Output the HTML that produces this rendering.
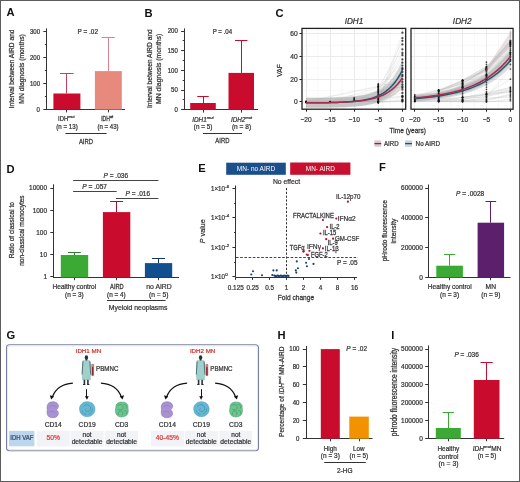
<!DOCTYPE html>
<html><head><meta charset="utf-8"><style>
html,body{margin:0;padding:0;background:#fff;overflow:hidden;}
svg{display:block;font-family:"Liberation Sans", sans-serif;will-change:transform;}
</style></head><body>
<svg width="520" height="482" viewBox="0 0 520 482">
<rect x="0.5" y="0.5" width="519" height="481" fill="none" stroke="#5c5c5c" stroke-width="1"/>
<text transform="translate(6.60 16.20)" font-size="11.2" font-weight="bold" fill="#111">A</text>
<line x1="46.50" y1="28.40" x2="46.50" y2="109.60" stroke="#333" stroke-width="1"/>
<line x1="43.30" y1="31.50" x2="46.50" y2="31.50" stroke="#333" stroke-width="1"/>
<text transform="translate(40.00 33.78) scale(0.920 1)" font-size="6.6" text-anchor="end" fill="#333" stroke="#333" stroke-width="0.239">300</text>
<line x1="43.30" y1="57.50" x2="46.50" y2="57.50" stroke="#333" stroke-width="1"/>
<text transform="translate(40.00 59.68) scale(0.920 1)" font-size="6.6" text-anchor="end" fill="#333" stroke="#333" stroke-width="0.239">200</text>
<line x1="43.30" y1="83.50" x2="46.50" y2="83.50" stroke="#333" stroke-width="1"/>
<text transform="translate(40.00 85.68) scale(0.920 1)" font-size="6.6" text-anchor="end" fill="#333" stroke="#333" stroke-width="0.239">100</text>
<line x1="43.30" y1="109.50" x2="46.50" y2="109.50" stroke="#333" stroke-width="1"/>
<text transform="translate(40.00 111.58) scale(0.920 1)" font-size="6.6" text-anchor="end" fill="#333" stroke="#333" stroke-width="0.239">0</text>
<line x1="44.90" y1="44.50" x2="46.50" y2="44.50" stroke="#333" stroke-width="1"/>
<line x1="44.90" y1="70.50" x2="46.50" y2="70.50" stroke="#333" stroke-width="1"/>
<line x1="44.90" y1="96.50" x2="46.50" y2="96.50" stroke="#333" stroke-width="1"/>
<line x1="46.00" y1="109.50" x2="125.00" y2="109.50" stroke="#333" stroke-width="1"/>
<line x1="66.50" y1="109.60" x2="66.50" y2="112.40" stroke="#333" stroke-width="1"/>
<line x1="108.50" y1="109.60" x2="108.50" y2="112.40" stroke="#333" stroke-width="1"/>
<rect x="53.40" y="93.50" width="27.00" height="16.10" fill="#c90c2d"/>
<line x1="66.50" y1="93.50" x2="66.50" y2="73.60" stroke="#c8405a" stroke-width="1"/>
<line x1="60.10" y1="73.50" x2="73.60" y2="73.50" stroke="#c8405a" stroke-width="1"/>
<rect x="94.90" y="71.10" width="26.90" height="38.50" fill="#e8897e"/>
<line x1="108.50" y1="71.10" x2="108.50" y2="37.00" stroke="#d8848c" stroke-width="1"/>
<line x1="101.50" y1="37.50" x2="114.80" y2="37.50" stroke="#d8848c" stroke-width="1"/>
<text transform="translate(87.80 34.00) scale(0.977 1)" font-size="6.6" text-anchor="middle" fill="#333" stroke="#333" stroke-width="0.225">P = .02</text>
<text transform="translate(14.00 68.90) rotate(-90) scale(0.872 1)" font-size="7.6" text-anchor="middle" fill="#333" stroke="#333" stroke-width="0.252">Interval between AIRD and</text>
<text transform="translate(23.80 68.90) rotate(-90) scale(0.891 1)" font-size="7.6" text-anchor="middle" fill="#333" stroke="#333" stroke-width="0.247">MN diagnosis (months)</text>
<text transform="translate(66.30 121.10) scale(0.880 1)" font-size="6.7" text-anchor="middle" fill="#333" stroke="#333" stroke-width="0.250">IDH<tspan font-size="4.4" dy="-2.7">mut</tspan></text>
<text transform="translate(67.00 128.60) scale(0.924 1)" font-size="6.7" text-anchor="middle" fill="#333" stroke="#333" stroke-width="0.238">(n = 13)</text>
<text transform="translate(107.20 121.10) scale(0.753 1)" font-size="6.7" text-anchor="middle" fill="#333" stroke="#333" stroke-width="0.292">IDH<tspan font-size="4.4" dy="-2.7">wt</tspan></text>
<text transform="translate(108.00 128.60) scale(0.906 1)" font-size="6.7" text-anchor="middle" fill="#333" stroke="#333" stroke-width="0.243">(n = 43)</text>
<line x1="65.40" y1="133.50" x2="106.60" y2="133.50" stroke="#333" stroke-width="1"/>
<text transform="translate(86.00 143.80) scale(0.825 1)" font-size="7.2" text-anchor="middle" fill="#333" stroke="#333" stroke-width="0.267">AIRD</text>
<text transform="translate(144.50 16.80)" font-size="11.2" font-weight="bold" fill="#111">B</text>
<line x1="184.50" y1="28.40" x2="184.50" y2="110.00" stroke="#333" stroke-width="1"/>
<line x1="181.10" y1="31.50" x2="184.30" y2="31.50" stroke="#333" stroke-width="1"/>
<text transform="translate(177.80 33.38) scale(0.920 1)" font-size="6.6" text-anchor="end" fill="#333" stroke="#333" stroke-width="0.239">200</text>
<line x1="181.10" y1="50.50" x2="184.30" y2="50.50" stroke="#333" stroke-width="1"/>
<text transform="translate(177.80 53.08) scale(0.920 1)" font-size="6.6" text-anchor="end" fill="#333" stroke="#333" stroke-width="0.239">150</text>
<line x1="181.10" y1="70.50" x2="184.30" y2="70.50" stroke="#333" stroke-width="1"/>
<text transform="translate(177.80 72.78) scale(0.920 1)" font-size="6.6" text-anchor="end" fill="#333" stroke="#333" stroke-width="0.239">100</text>
<line x1="181.10" y1="90.50" x2="184.30" y2="90.50" stroke="#333" stroke-width="1"/>
<text transform="translate(177.80 92.48) scale(0.920 1)" font-size="6.6" text-anchor="end" fill="#333" stroke="#333" stroke-width="0.239">50</text>
<line x1="181.10" y1="109.50" x2="184.30" y2="109.50" stroke="#333" stroke-width="1"/>
<text transform="translate(177.80 112.18) scale(0.920 1)" font-size="6.6" text-anchor="end" fill="#333" stroke="#333" stroke-width="0.239">0</text>
<line x1="182.70" y1="40.50" x2="184.30" y2="40.50" stroke="#333" stroke-width="1"/>
<line x1="182.70" y1="60.50" x2="184.30" y2="60.50" stroke="#333" stroke-width="1"/>
<line x1="182.70" y1="80.50" x2="184.30" y2="80.50" stroke="#333" stroke-width="1"/>
<line x1="182.70" y1="99.50" x2="184.30" y2="99.50" stroke="#333" stroke-width="1"/>
<line x1="184.00" y1="109.50" x2="258.00" y2="109.50" stroke="#333" stroke-width="1"/>
<line x1="203.50" y1="109.80" x2="203.50" y2="112.60" stroke="#333" stroke-width="1"/>
<line x1="241.50" y1="109.80" x2="241.50" y2="112.60" stroke="#333" stroke-width="1"/>
<rect x="190.20" y="103.00" width="25.60" height="6.80" fill="#c90c2d"/>
<line x1="203.50" y1="103.00" x2="203.50" y2="96.20" stroke="#c90c2d" stroke-width="1"/>
<line x1="197.25" y1="96.50" x2="208.75" y2="96.50" stroke="#c90c2d" stroke-width="1"/>
<rect x="228.50" y="72.90" width="25.50" height="36.90" fill="#c90c2d"/>
<line x1="241.50" y1="72.90" x2="241.50" y2="40.70" stroke="#c90c2d" stroke-width="1"/>
<line x1="235.05" y1="40.50" x2="247.45" y2="40.50" stroke="#c90c2d" stroke-width="1"/>
<text transform="translate(222.40 33.70) scale(0.934 1)" font-size="6.6" text-anchor="middle" fill="#333" stroke="#333" stroke-width="0.235">P = .04</text>
<text transform="translate(152.20 68.65) rotate(-90) scale(0.874 1)" font-size="7.6" text-anchor="middle" fill="#333" stroke="#333" stroke-width="0.252">Interval between AIRD and</text>
<text transform="translate(160.60 68.85) rotate(-90) scale(0.902 1)" font-size="7.6" text-anchor="middle" fill="#333" stroke="#333" stroke-width="0.244">MN diagnosis (months)</text>
<text transform="translate(203.00 121.50) scale(0.956 1)" font-size="6.7" text-anchor="middle" fill="#333" stroke="#333" stroke-width="0.230"><tspan font-style="italic">IDH1<tspan font-size="4.4" dy="-2.7">mut</tspan></tspan></text>
<text transform="translate(203.10 128.80) scale(0.946 1)" font-size="6.7" text-anchor="middle" fill="#333" stroke="#333" stroke-width="0.232">(n = 5)</text>
<text transform="translate(241.50 121.50) scale(0.938 1)" font-size="6.7" text-anchor="middle" fill="#333" stroke="#333" stroke-width="0.235"><tspan font-style="italic">IDH2<tspan font-size="4.4" dy="-2.7">mut</tspan></tspan></text>
<text transform="translate(241.50 128.80) scale(0.982 1)" font-size="6.7" text-anchor="middle" fill="#333" stroke="#333" stroke-width="0.224">(n = 8)</text>
<line x1="203.00" y1="133.50" x2="242.00" y2="133.50" stroke="#333" stroke-width="1"/>
<text transform="translate(222.40 143.30) scale(0.820 1)" font-size="7.2" text-anchor="middle" fill="#333" stroke="#333" stroke-width="0.268">AIRD</text>
<text transform="translate(275.60 16.50)" font-size="11.2" font-weight="bold" fill="#111">C</text>
<rect x="302.00" y="28.40" width="103.70" height="80.80" fill="#fff"/>
<line x1="318.05" y1="28.40" x2="318.05" y2="109.20" stroke="#f4f4f4" stroke-width="0.6"/>
<line x1="342.15" y1="28.40" x2="342.15" y2="109.20" stroke="#f4f4f4" stroke-width="0.6"/>
<line x1="366.25" y1="28.40" x2="366.25" y2="109.20" stroke="#f4f4f4" stroke-width="0.6"/>
<line x1="390.35" y1="28.40" x2="390.35" y2="109.20" stroke="#f4f4f4" stroke-width="0.6"/>
<line x1="302.00" y1="90.48" x2="405.70" y2="90.48" stroke="#f4f4f4" stroke-width="0.6"/>
<line x1="302.00" y1="67.85" x2="405.70" y2="67.85" stroke="#f4f4f4" stroke-width="0.6"/>
<line x1="302.00" y1="45.22" x2="405.70" y2="45.22" stroke="#f4f4f4" stroke-width="0.6"/>
<line x1="306.50" y1="28.40" x2="306.50" y2="109.20" stroke="#ebebeb" stroke-width="1"/>
<line x1="330.50" y1="28.40" x2="330.50" y2="109.20" stroke="#ebebeb" stroke-width="1"/>
<line x1="354.50" y1="28.40" x2="354.50" y2="109.20" stroke="#ebebeb" stroke-width="1"/>
<line x1="378.50" y1="28.40" x2="378.50" y2="109.20" stroke="#ebebeb" stroke-width="1"/>
<line x1="402.50" y1="28.40" x2="402.50" y2="109.20" stroke="#ebebeb" stroke-width="1"/>
<line x1="302.00" y1="101.50" x2="405.70" y2="101.50" stroke="#ebebeb" stroke-width="1"/>
<line x1="302.00" y1="79.50" x2="405.70" y2="79.50" stroke="#ebebeb" stroke-width="1"/>
<line x1="302.00" y1="56.50" x2="405.70" y2="56.50" stroke="#ebebeb" stroke-width="1"/>
<line x1="302.00" y1="33.50" x2="405.70" y2="33.50" stroke="#ebebeb" stroke-width="1"/>
<path d="M378.30,101.54 L402.40,32.69" fill="none" stroke="#b8b8b8" stroke-width="0.5" opacity="0.38"/>
<path d="M330.10,101.62 L354.20,99.84 L378.30,101.59 L402.40,38.22" fill="none" stroke="#b8b8b8" stroke-width="0.5" opacity="0.38"/>
<path d="M354.20,100.79 L378.30,90.86 L402.40,40.81" fill="none" stroke="#b8b8b8" stroke-width="0.5" opacity="0.38"/>
<path d="M378.30,102.04 L402.40,44.41" fill="none" stroke="#b8b8b8" stroke-width="0.5" opacity="0.38"/>
<path d="M330.10,102.19 L378.30,87.23 L402.40,49.33" fill="none" stroke="#b8b8b8" stroke-width="0.5" opacity="0.38"/>
<path d="M378.30,92.39 L402.40,53.00" fill="none" stroke="#b8b8b8" stroke-width="0.5" opacity="0.38"/>
<path d="M306.00,102.06 L378.30,96.89 L402.40,55.21" fill="none" stroke="#b8b8b8" stroke-width="0.5" opacity="0.38"/>
<path d="M378.30,89.48 L402.40,59.38" fill="none" stroke="#b8b8b8" stroke-width="0.5" opacity="0.38"/>
<path d="M378.30,88.90 L402.40,62.67" fill="none" stroke="#b8b8b8" stroke-width="0.5" opacity="0.38"/>
<path d="M330.10,101.75 L378.30,100.01 L402.40,65.61" fill="none" stroke="#b8b8b8" stroke-width="0.5" opacity="0.38"/>
<path d="M306.00,101.38 L378.30,86.09 L402.40,68.27" fill="none" stroke="#b8b8b8" stroke-width="0.5" opacity="0.38"/>
<path d="M378.30,94.16 L402.40,69.34" fill="none" stroke="#b8b8b8" stroke-width="0.5" opacity="0.38"/>
<path d="M378.30,101.76 L402.40,71.92" fill="none" stroke="#b8b8b8" stroke-width="0.5" opacity="0.38"/>
<path d="M378.30,97.46 L402.40,74.90" fill="none" stroke="#b8b8b8" stroke-width="0.5" opacity="0.38"/>
<path d="M330.10,101.69 L354.20,101.27 L378.30,101.80 L402.40,76.30" fill="none" stroke="#b8b8b8" stroke-width="0.5" opacity="0.38"/>
<path d="M306.00,102.00 L378.30,101.38 L402.40,79.28" fill="none" stroke="#b8b8b8" stroke-width="0.5" opacity="0.38"/>
<path d="M378.30,86.31 L402.40,81.93" fill="none" stroke="#b8b8b8" stroke-width="0.5" opacity="0.38"/>
<path d="M378.30,84.51 L402.40,84.48" fill="none" stroke="#b8b8b8" stroke-width="0.5" opacity="0.38"/>
<path d="M306.00,102.02 L378.30,91.60 L402.40,86.49" fill="none" stroke="#b8b8b8" stroke-width="0.5" opacity="0.38"/>
<path d="M306.00,101.75 L378.30,86.75 L402.40,87.79" fill="none" stroke="#b8b8b8" stroke-width="0.5" opacity="0.38"/>
<path d="M378.30,102.14 L402.40,89.58" fill="none" stroke="#b8b8b8" stroke-width="0.5" opacity="0.38"/>
<path d="M378.30,98.05 L402.40,92.98" fill="none" stroke="#b8b8b8" stroke-width="0.5" opacity="0.38"/>
<path d="M306.00,101.43 L330.10,102.27 L354.20,101.07 L378.30,99.47 L402.40,96.02" fill="none" stroke="#b8b8b8" stroke-width="0.5" opacity="0.38"/>
<path d="M306.00,102.14 L330.10,101.83 L354.20,97.84 L378.30,97.37 L402.40,96.94" fill="none" stroke="#b8b8b8" stroke-width="0.5" opacity="0.38"/>
<path d="M378.30,101.96 L402.40,96.48" fill="none" stroke="#b8b8b8" stroke-width="0.5" opacity="0.38"/>
<path d="M378.30,102.35 L402.40,99.31" fill="none" stroke="#b8b8b8" stroke-width="0.5" opacity="0.38"/>
<path d="M378.30,102.02 L402.40,100.62" fill="none" stroke="#b8b8b8" stroke-width="0.5" opacity="0.38"/>
<path d="M354.20,99.34 L378.30,102.81 L402.40,100.60" fill="none" stroke="#b8b8b8" stroke-width="0.5" opacity="0.38"/>
<path d="M378.30,101.90 L402.40,101.54" fill="none" stroke="#b8b8b8" stroke-width="0.5" opacity="0.38"/>
<path d="M306.00,97.87 L308.41,97.86 L310.82,97.84 L313.23,97.82 L315.64,97.80 L318.05,97.77 L320.46,97.74 L322.87,97.71 L325.28,97.67 L327.69,97.62 L330.10,97.57 L332.51,97.51 L334.92,97.43 L337.33,97.35 L339.74,97.25 L342.15,97.13 L344.56,96.99 L346.97,96.84 L349.38,96.65 L351.79,96.44 L354.20,96.19 L356.61,95.89 L359.02,95.55 L361.43,95.16 L363.84,94.69 L366.25,94.15 L368.66,93.52 L371.07,92.79 L373.48,91.94 L375.89,90.94 L378.30,89.78 L380.71,88.42 L383.12,86.84 L385.53,85.00 L387.94,82.86 L390.35,80.35 L392.76,77.44 L395.17,74.03 L397.58,70.06 L399.99,65.44 L402.40,60.04 L402.40,80.19 L399.99,84.02 L397.58,87.32 L395.17,90.17 L392.76,92.62 L390.35,94.74 L387.94,96.56 L385.53,98.13 L383.12,99.49 L380.71,100.65 L378.30,101.66 L375.89,102.53 L373.48,103.27 L371.07,103.92 L368.66,104.47 L366.25,104.95 L363.84,105.36 L361.43,105.71 L359.02,106.02 L356.61,106.28 L354.20,106.51 L351.79,106.70 L349.38,106.87 L346.97,107.02 L344.56,107.14 L342.15,107.25 L339.74,107.34 L337.33,107.42 L334.92,107.49 L332.51,107.55 L330.10,107.60 L327.69,107.64 L325.28,107.68 L322.87,107.71 L320.46,107.74 L318.05,107.76 L315.64,107.78 L313.23,107.80 L310.82,107.82 L308.41,107.83 L306.00,107.84Z" fill="#999" opacity="0.33"/>
<path d="M306.00,97.86 L308.41,97.85 L310.82,97.84 L313.23,97.82 L315.64,97.80 L318.05,97.77 L320.46,97.74 L322.87,97.71 L325.28,97.67 L327.69,97.63 L330.10,97.58 L332.51,97.52 L334.92,97.45 L337.33,97.38 L339.74,97.29 L342.15,97.18 L344.56,97.06 L346.97,96.92 L349.38,96.76 L351.79,96.58 L354.20,96.36 L356.61,96.11 L359.02,95.82 L361.43,95.49 L363.84,95.11 L366.25,94.66 L368.66,94.14 L371.07,93.55 L373.48,92.86 L375.89,92.06 L378.30,91.13 L380.71,90.06 L383.12,88.82 L385.53,87.38 L387.94,85.72 L390.35,83.80 L392.76,81.57 L395.17,78.99 L397.58,76.00 L399.99,72.54 L402.40,68.53 L402.40,87.54 L399.99,90.16 L397.58,92.45 L395.17,94.44 L392.76,96.18 L390.35,97.69 L387.94,99.01 L385.53,100.16 L383.12,101.16 L380.71,102.04 L378.30,102.80 L375.89,103.46 L373.48,104.04 L371.07,104.54 L368.66,104.98 L366.25,105.36 L363.84,105.69 L361.43,105.98 L359.02,106.23 L356.61,106.45 L354.20,106.64 L351.79,106.81 L349.38,106.95 L346.97,107.08 L344.56,107.19 L342.15,107.28 L339.74,107.36 L337.33,107.44 L334.92,107.50 L332.51,107.55 L330.10,107.60 L327.69,107.64 L325.28,107.68 L322.87,107.71 L320.46,107.73 L318.05,107.76 L315.64,107.78 L313.23,107.79 L310.82,107.81 L308.41,107.82 L306.00,107.83Z" fill="#999" opacity="0.33"/>
<circle cx="378.30" cy="101.54" r="0.85" fill="#111" opacity="0.75"/>
<circle cx="402.40" cy="32.69" r="1.15" fill="#111" opacity="0.75"/>
<circle cx="330.10" cy="101.62" r="0.85" fill="#111" opacity="0.75"/>
<circle cx="354.20" cy="99.84" r="0.85" fill="#111" opacity="0.75"/>
<circle cx="378.30" cy="101.59" r="0.85" fill="#111" opacity="0.75"/>
<circle cx="402.40" cy="38.22" r="1.15" fill="#111" opacity="0.75"/>
<circle cx="354.20" cy="100.79" r="0.85" fill="#111" opacity="0.75"/>
<circle cx="378.30" cy="90.86" r="0.85" fill="#111" opacity="0.75"/>
<circle cx="402.40" cy="40.81" r="1.15" fill="#111" opacity="0.75"/>
<circle cx="378.30" cy="102.04" r="0.85" fill="#111" opacity="0.75"/>
<circle cx="402.40" cy="44.41" r="1.15" fill="#111" opacity="0.75"/>
<circle cx="330.10" cy="102.19" r="0.85" fill="#111" opacity="0.75"/>
<circle cx="378.30" cy="87.23" r="0.85" fill="#111" opacity="0.75"/>
<circle cx="402.40" cy="49.33" r="1.15" fill="#111" opacity="0.75"/>
<circle cx="378.30" cy="92.39" r="0.85" fill="#111" opacity="0.75"/>
<circle cx="402.40" cy="53.00" r="1.15" fill="#111" opacity="0.75"/>
<circle cx="306.00" cy="102.06" r="0.85" fill="#111" opacity="0.75"/>
<circle cx="378.30" cy="96.89" r="0.85" fill="#111" opacity="0.75"/>
<circle cx="402.40" cy="55.21" r="1.15" fill="#111" opacity="0.75"/>
<circle cx="378.30" cy="89.48" r="0.85" fill="#111" opacity="0.75"/>
<circle cx="402.40" cy="59.38" r="1.15" fill="#111" opacity="0.75"/>
<circle cx="378.30" cy="88.90" r="0.85" fill="#111" opacity="0.75"/>
<circle cx="402.40" cy="62.67" r="1.15" fill="#111" opacity="0.75"/>
<circle cx="330.10" cy="101.75" r="0.85" fill="#111" opacity="0.75"/>
<circle cx="378.30" cy="100.01" r="0.85" fill="#111" opacity="0.75"/>
<circle cx="402.40" cy="65.61" r="1.15" fill="#111" opacity="0.75"/>
<circle cx="306.00" cy="101.38" r="0.85" fill="#111" opacity="0.75"/>
<circle cx="378.30" cy="86.09" r="0.85" fill="#111" opacity="0.75"/>
<circle cx="402.40" cy="68.27" r="1.15" fill="#111" opacity="0.75"/>
<circle cx="378.30" cy="94.16" r="0.85" fill="#111" opacity="0.75"/>
<circle cx="402.40" cy="69.34" r="1.15" fill="#111" opacity="0.75"/>
<circle cx="378.30" cy="101.76" r="0.85" fill="#111" opacity="0.75"/>
<circle cx="402.40" cy="71.92" r="1.15" fill="#111" opacity="0.75"/>
<circle cx="378.30" cy="97.46" r="0.85" fill="#111" opacity="0.75"/>
<circle cx="402.40" cy="74.90" r="1.15" fill="#111" opacity="0.75"/>
<circle cx="330.10" cy="101.69" r="0.85" fill="#111" opacity="0.75"/>
<circle cx="354.20" cy="101.27" r="0.85" fill="#111" opacity="0.75"/>
<circle cx="378.30" cy="101.80" r="0.85" fill="#111" opacity="0.75"/>
<circle cx="402.40" cy="76.30" r="1.15" fill="#111" opacity="0.75"/>
<circle cx="306.00" cy="102.00" r="0.85" fill="#111" opacity="0.75"/>
<circle cx="378.30" cy="101.38" r="0.85" fill="#111" opacity="0.75"/>
<circle cx="402.40" cy="79.28" r="1.15" fill="#111" opacity="0.75"/>
<circle cx="378.30" cy="86.31" r="0.85" fill="#111" opacity="0.75"/>
<circle cx="402.40" cy="81.93" r="1.15" fill="#111" opacity="0.75"/>
<circle cx="378.30" cy="84.51" r="0.85" fill="#111" opacity="0.75"/>
<circle cx="402.40" cy="84.48" r="1.15" fill="#111" opacity="0.75"/>
<circle cx="306.00" cy="102.02" r="0.85" fill="#111" opacity="0.75"/>
<circle cx="378.30" cy="91.60" r="0.85" fill="#111" opacity="0.75"/>
<circle cx="402.40" cy="86.49" r="1.15" fill="#111" opacity="0.75"/>
<circle cx="306.00" cy="101.75" r="0.85" fill="#111" opacity="0.75"/>
<circle cx="378.30" cy="86.75" r="0.85" fill="#111" opacity="0.75"/>
<circle cx="402.40" cy="87.79" r="1.15" fill="#111" opacity="0.75"/>
<circle cx="378.30" cy="102.14" r="0.85" fill="#111" opacity="0.75"/>
<circle cx="402.40" cy="89.58" r="1.15" fill="#111" opacity="0.75"/>
<circle cx="378.30" cy="98.05" r="0.85" fill="#111" opacity="0.75"/>
<circle cx="402.40" cy="92.98" r="1.15" fill="#111" opacity="0.75"/>
<circle cx="306.00" cy="101.43" r="0.85" fill="#111" opacity="0.75"/>
<circle cx="330.10" cy="102.27" r="0.85" fill="#111" opacity="0.75"/>
<circle cx="354.20" cy="101.07" r="0.85" fill="#111" opacity="0.75"/>
<circle cx="378.30" cy="99.47" r="0.85" fill="#111" opacity="0.75"/>
<circle cx="402.40" cy="96.02" r="1.15" fill="#111" opacity="0.75"/>
<circle cx="306.00" cy="102.14" r="0.85" fill="#111" opacity="0.75"/>
<circle cx="330.10" cy="101.83" r="0.85" fill="#111" opacity="0.75"/>
<circle cx="354.20" cy="97.84" r="0.85" fill="#111" opacity="0.75"/>
<circle cx="378.30" cy="97.37" r="0.85" fill="#111" opacity="0.75"/>
<circle cx="402.40" cy="96.94" r="1.15" fill="#111" opacity="0.75"/>
<circle cx="378.30" cy="101.96" r="0.85" fill="#111" opacity="0.75"/>
<circle cx="402.40" cy="96.48" r="1.15" fill="#111" opacity="0.75"/>
<circle cx="378.30" cy="102.35" r="0.85" fill="#111" opacity="0.75"/>
<circle cx="402.40" cy="99.31" r="1.15" fill="#111" opacity="0.75"/>
<circle cx="378.30" cy="102.02" r="0.85" fill="#111" opacity="0.75"/>
<circle cx="402.40" cy="100.62" r="1.15" fill="#111" opacity="0.75"/>
<circle cx="354.20" cy="99.34" r="0.85" fill="#111" opacity="0.75"/>
<circle cx="378.30" cy="102.81" r="0.85" fill="#111" opacity="0.75"/>
<circle cx="402.40" cy="100.60" r="1.15" fill="#111" opacity="0.75"/>
<circle cx="378.30" cy="101.90" r="0.85" fill="#111" opacity="0.75"/>
<circle cx="402.40" cy="101.54" r="1.15" fill="#111" opacity="0.75"/>
<circle cx="378.30" cy="102.93" r="0.85" fill="#111" opacity="0.75"/>
<circle cx="378.30" cy="101.80" r="0.85" fill="#111" opacity="0.75"/>
<circle cx="378.30" cy="100.67" r="0.85" fill="#111" opacity="0.75"/>
<circle cx="378.30" cy="99.54" r="0.85" fill="#111" opacity="0.75"/>
<circle cx="378.30" cy="98.41" r="0.85" fill="#111" opacity="0.75"/>
<circle cx="378.30" cy="97.27" r="0.85" fill="#111" opacity="0.75"/>
<circle cx="378.30" cy="96.14" r="0.85" fill="#111" opacity="0.75"/>
<circle cx="378.30" cy="95.01" r="0.85" fill="#111" opacity="0.75"/>
<circle cx="378.30" cy="93.88" r="0.85" fill="#111" opacity="0.75"/>
<circle cx="378.30" cy="92.75" r="0.85" fill="#111" opacity="0.75"/>
<circle cx="378.30" cy="91.61" r="0.85" fill="#111" opacity="0.75"/>
<circle cx="378.30" cy="90.48" r="0.85" fill="#111" opacity="0.75"/>
<circle cx="378.30" cy="89.35" r="0.85" fill="#111" opacity="0.75"/>
<circle cx="378.30" cy="88.22" r="0.85" fill="#111" opacity="0.75"/>
<circle cx="378.30" cy="87.09" r="0.85" fill="#111" opacity="0.75"/>
<circle cx="378.30" cy="85.96" r="0.85" fill="#111" opacity="0.75"/>
<circle cx="378.30" cy="84.82" r="0.85" fill="#111" opacity="0.75"/>
<circle cx="378.30" cy="83.69" r="0.85" fill="#111" opacity="0.75"/>
<circle cx="306.00" cy="102.71" r="0.85" fill="#111" opacity="0.75"/>
<circle cx="330.10" cy="102.37" r="0.85" fill="#111" opacity="0.75"/>
<circle cx="354.20" cy="101.23" r="0.85" fill="#111" opacity="0.75"/>
<circle cx="354.20" cy="98.41" r="0.85" fill="#111" opacity="0.75"/>
<path d="M306.00,102.86 L308.41,102.84 L310.82,102.83 L313.23,102.81 L315.64,102.79 L318.05,102.77 L320.46,102.74 L322.87,102.71 L325.28,102.67 L327.69,102.63 L330.10,102.58 L332.51,102.53 L334.92,102.46 L337.33,102.38 L339.74,102.29 L342.15,102.19 L344.56,102.07 L346.97,101.93 L349.38,101.76 L351.79,101.57 L354.20,101.35 L356.61,101.09 L359.02,100.79 L361.43,100.43 L363.84,100.03 L366.25,99.55 L368.66,99.00 L371.07,98.35 L373.48,97.60 L375.89,96.73 L378.30,95.72 L380.71,94.54 L383.12,93.17 L385.53,91.57 L387.94,89.71 L390.35,87.55 L392.76,85.03 L395.17,82.10 L397.58,78.69 L399.99,74.73 L402.40,70.11" fill="none" stroke="#245a70" stroke-width="1.5"/>
<path d="M306.00,102.85 L308.41,102.84 L310.82,102.82 L313.23,102.81 L315.64,102.79 L318.05,102.76 L320.46,102.74 L322.87,102.71 L325.28,102.67 L327.69,102.63 L330.10,102.59 L332.51,102.54 L334.92,102.48 L337.33,102.41 L339.74,102.32 L342.15,102.23 L344.56,102.12 L346.97,102.00 L349.38,101.86 L351.79,101.69 L354.20,101.50 L356.61,101.28 L359.02,101.03 L361.43,100.74 L363.84,100.40 L366.25,100.01 L368.66,99.56 L371.07,99.04 L373.48,98.45 L375.89,97.76 L378.30,96.97 L380.71,96.05 L383.12,94.99 L385.53,93.77 L387.94,92.37 L390.35,90.74 L392.76,88.87 L395.17,86.71 L397.58,84.22 L399.99,81.35 L402.40,78.03" fill="none" stroke="#ab2a4f" stroke-width="1.5"/>
<rect x="302.00" y="28.40" width="103.70" height="80.80" fill="none" stroke="#222" stroke-width="1.3"/>
<line x1="306.50" y1="109.20" x2="306.50" y2="111.70" stroke="#222" stroke-width="1"/>
<text transform="translate(306.00 121.60) scale(0.920 1)" font-size="7.2" text-anchor="middle" fill="#333" stroke="#333" stroke-width="0.239">−20</text>
<line x1="330.50" y1="109.20" x2="330.50" y2="111.70" stroke="#222" stroke-width="1"/>
<text transform="translate(330.10 121.60) scale(0.920 1)" font-size="7.2" text-anchor="middle" fill="#333" stroke="#333" stroke-width="0.239">−15</text>
<line x1="354.50" y1="109.20" x2="354.50" y2="111.70" stroke="#222" stroke-width="1"/>
<text transform="translate(354.20 121.60) scale(0.920 1)" font-size="7.2" text-anchor="middle" fill="#333" stroke="#333" stroke-width="0.239">−10</text>
<line x1="378.50" y1="109.20" x2="378.50" y2="111.70" stroke="#222" stroke-width="1"/>
<text transform="translate(378.30 121.60) scale(0.920 1)" font-size="7.2" text-anchor="middle" fill="#333" stroke="#333" stroke-width="0.239">−5</text>
<line x1="402.50" y1="109.20" x2="402.50" y2="111.70" stroke="#222" stroke-width="1"/>
<text transform="translate(402.40 121.60) scale(0.920 1)" font-size="7.2" text-anchor="middle" fill="#333" stroke="#333" stroke-width="0.239">0</text>
<line x1="299.50" y1="33.50" x2="302.00" y2="33.50" stroke="#222" stroke-width="1"/>
<text transform="translate(297.60 36.40) scale(0.920 1)" font-size="7.2" text-anchor="end" fill="#333" stroke="#333" stroke-width="0.239">60</text>
<line x1="299.50" y1="56.50" x2="302.00" y2="56.50" stroke="#222" stroke-width="1"/>
<text transform="translate(297.60 59.03) scale(0.920 1)" font-size="7.2" text-anchor="end" fill="#333" stroke="#333" stroke-width="0.239">40</text>
<line x1="299.50" y1="79.50" x2="302.00" y2="79.50" stroke="#222" stroke-width="1"/>
<text transform="translate(297.60 81.67) scale(0.920 1)" font-size="7.2" text-anchor="end" fill="#333" stroke="#333" stroke-width="0.239">20</text>
<line x1="299.50" y1="101.50" x2="302.00" y2="101.50" stroke="#222" stroke-width="1"/>
<text transform="translate(297.60 104.30) scale(0.920 1)" font-size="7.2" text-anchor="end" fill="#333" stroke="#333" stroke-width="0.239">0</text>
<rect x="411.00" y="28.40" width="102.10" height="80.80" fill="#fff"/>
<line x1="426.66" y1="28.40" x2="426.66" y2="109.20" stroke="#f4f4f4" stroke-width="0.6"/>
<line x1="450.59" y1="28.40" x2="450.59" y2="109.20" stroke="#f4f4f4" stroke-width="0.6"/>
<line x1="474.51" y1="28.40" x2="474.51" y2="109.20" stroke="#f4f4f4" stroke-width="0.6"/>
<line x1="498.44" y1="28.40" x2="498.44" y2="109.20" stroke="#f4f4f4" stroke-width="0.6"/>
<line x1="411.00" y1="90.48" x2="513.10" y2="90.48" stroke="#f4f4f4" stroke-width="0.6"/>
<line x1="411.00" y1="67.85" x2="513.10" y2="67.85" stroke="#f4f4f4" stroke-width="0.6"/>
<line x1="411.00" y1="45.22" x2="513.10" y2="45.22" stroke="#f4f4f4" stroke-width="0.6"/>
<line x1="414.50" y1="28.40" x2="414.50" y2="109.20" stroke="#ebebeb" stroke-width="1"/>
<line x1="438.50" y1="28.40" x2="438.50" y2="109.20" stroke="#ebebeb" stroke-width="1"/>
<line x1="462.50" y1="28.40" x2="462.50" y2="109.20" stroke="#ebebeb" stroke-width="1"/>
<line x1="486.50" y1="28.40" x2="486.50" y2="109.20" stroke="#ebebeb" stroke-width="1"/>
<line x1="510.50" y1="28.40" x2="510.50" y2="109.20" stroke="#ebebeb" stroke-width="1"/>
<line x1="411.00" y1="101.50" x2="513.10" y2="101.50" stroke="#ebebeb" stroke-width="1"/>
<line x1="411.00" y1="79.50" x2="513.10" y2="79.50" stroke="#ebebeb" stroke-width="1"/>
<line x1="411.00" y1="56.50" x2="513.10" y2="56.50" stroke="#ebebeb" stroke-width="1"/>
<line x1="411.00" y1="33.50" x2="513.10" y2="33.50" stroke="#ebebeb" stroke-width="1"/>
<path d="M438.62,93.88 L462.55,84.82 L486.47,66.72 L510.40,33.90 L510.40,54.27 L486.47,76.90 L462.55,88.22 L438.62,95.01Z" fill="#c8c8c8" opacity="0.3"/>
<path d="M414.70,98.86 L438.62,95.24 L462.55,86.65 L486.47,75.39 L510.40,52.89" fill="none" stroke="#b8b8b8" stroke-width="0.5" opacity="0.45"/>
<path d="M438.62,90.48 L462.55,80.79 L486.47,71.18 L510.40,44.50" fill="none" stroke="#b8b8b8" stroke-width="0.5" opacity="0.45"/>
<path d="M462.55,80.52 L486.47,68.97 L510.40,46.40" fill="none" stroke="#b8b8b8" stroke-width="0.5" opacity="0.45"/>
<path d="M438.62,90.98 L462.55,83.27 L486.47,68.67 L510.40,42.98" fill="none" stroke="#b8b8b8" stroke-width="0.5" opacity="0.45"/>
<path d="M462.55,90.48 L486.47,80.42 L510.40,60.74" fill="none" stroke="#b8b8b8" stroke-width="0.5" opacity="0.45"/>
<path d="M486.47,69.89 L510.40,45.57" fill="none" stroke="#b8b8b8" stroke-width="0.5" opacity="0.45"/>
<path d="M486.47,68.97 L510.40,41.37" fill="none" stroke="#b8b8b8" stroke-width="0.5" opacity="0.45"/>
<path d="M414.70,95.01 L438.62,89.92 L462.55,80.80 L486.47,69.94 L510.40,40.69" fill="none" stroke="#b8b8b8" stroke-width="0.5" opacity="0.45"/>
<path d="M462.55,87.63 L486.47,78.85 L510.40,59.59" fill="none" stroke="#b8b8b8" stroke-width="0.5" opacity="0.45"/>
<path d="M414.70,97.08 L438.62,93.52 L462.55,84.19 L486.47,68.38 L510.40,43.80" fill="none" stroke="#b8b8b8" stroke-width="0.5" opacity="0.45"/>
<path d="M414.70,96.79 L438.62,93.30 L462.55,82.03 L486.47,74.46 L510.40,48.21" fill="none" stroke="#b8b8b8" stroke-width="0.5" opacity="0.45"/>
<path d="M414.70,99.07 L438.62,97.78 L462.55,90.22 L486.47,78.67 L510.40,61.06" fill="none" stroke="#b8b8b8" stroke-width="0.5" opacity="0.45"/>
<path d="M438.62,92.37 L462.55,82.67 L486.47,70.49 L510.40,46.35" fill="none" stroke="#b8b8b8" stroke-width="0.5" opacity="0.45"/>
<path d="M462.55,88.04 L486.47,79.79 L510.40,52.44" fill="none" stroke="#b8b8b8" stroke-width="0.5" opacity="0.45"/>
<path d="M462.55,80.13 L486.47,66.72 L510.40,42.64" fill="none" stroke="#b8b8b8" stroke-width="0.5" opacity="0.45"/>
<path d="M414.70,97.35 L438.62,95.53 L462.55,85.02 L486.47,75.47 L510.40,54.27" fill="none" stroke="#b8b8b8" stroke-width="0.5" opacity="0.45"/>
<path d="M414.70,99.28 L438.62,96.18 L462.55,88.39 L486.47,79.92 L510.40,57.40" fill="none" stroke="#b8b8b8" stroke-width="0.5" opacity="0.45"/>
<path d="M486.47,72.21 L510.40,44.59" fill="none" stroke="#b8b8b8" stroke-width="0.5" opacity="0.45"/>
<path d="M438.62,98.34 L462.55,90.16 L486.47,78.90 L510.40,61.01" fill="none" stroke="#b8b8b8" stroke-width="0.5" opacity="0.45"/>
<path d="M414.70,97.62 L438.62,94.62 L462.55,85.67 L486.47,73.77 L510.40,52.42" fill="none" stroke="#b8b8b8" stroke-width="0.5" opacity="0.45"/>
<path d="M486.47,75.45 L510.40,50.53" fill="none" stroke="#b8b8b8" stroke-width="0.5" opacity="0.45"/>
<path d="M438.62,89.92 L462.55,81.84 L486.47,68.16 L510.40,42.94" fill="none" stroke="#b8b8b8" stroke-width="0.5" opacity="0.45"/>
<path d="M462.55,87.57 L486.47,76.45 L510.40,55.53" fill="none" stroke="#b8b8b8" stroke-width="0.5" opacity="0.45"/>
<path d="M438.62,90.40 L462.55,83.54 L486.47,68.63 L510.40,43.79" fill="none" stroke="#b8b8b8" stroke-width="0.5" opacity="0.45"/>
<path d="M414.70,99.55 L438.62,96.37 L462.55,86.70 L486.47,80.09 L510.40,52.77" fill="none" stroke="#b8b8b8" stroke-width="0.5" opacity="0.45"/>
<path d="M414.70,95.01 L438.62,91.15 L462.55,80.14 L486.47,66.78 L510.40,42.21" fill="none" stroke="#b8b8b8" stroke-width="0.5" opacity="0.45"/>
<path d="M438.62,96.76 L462.55,87.23 L486.47,77.14 L510.40,54.13" fill="none" stroke="#b8b8b8" stroke-width="0.5" opacity="0.45"/>
<path d="M414.70,98.11 L438.62,95.84 L462.55,84.37 L486.47,78.05 L510.40,49.82" fill="none" stroke="#b8b8b8" stroke-width="0.5" opacity="0.45"/>
<path d="M438.62,91.50 L462.55,81.04 L486.47,69.84 L510.40,40.69" fill="none" stroke="#b8b8b8" stroke-width="0.5" opacity="0.45"/>
<path d="M438.62,90.90 L462.55,80.85 L486.47,69.28 L510.40,42.03" fill="none" stroke="#b8b8b8" stroke-width="0.5" opacity="0.45"/>
<path d="M462.55,87.07 L486.47,78.82 L510.40,56.38" fill="none" stroke="#b8b8b8" stroke-width="0.5" opacity="0.45"/>
<path d="M414.70,98.07 L438.62,97.11 L462.55,85.78 L486.47,78.68 L510.40,59.31" fill="none" stroke="#b8b8b8" stroke-width="0.5" opacity="0.45"/>
<path d="M414.70,96.87 L438.62,90.39 L462.55,83.73 L486.47,67.50 L510.40,45.11" fill="none" stroke="#b8b8b8" stroke-width="0.5" opacity="0.45"/>
<path d="M462.55,80.15 L486.47,66.72 L510.40,40.69" fill="none" stroke="#b8b8b8" stroke-width="0.5" opacity="0.45"/>
<path d="M462.55,101.23 L486.47,97.73 L510.40,97.73" fill="none" stroke="#b8b8b8" stroke-width="0.5" opacity="0.45"/>
<path d="M462.55,99.54 L486.47,93.88 L510.40,91.61" fill="none" stroke="#b8b8b8" stroke-width="0.5" opacity="0.45"/>
<path d="M438.62,100.67 L462.55,97.27 L486.47,93.88 L510.40,87.09" fill="none" stroke="#b8b8b8" stroke-width="0.5" opacity="0.45"/>
<path d="M462.55,100.67 L486.47,99.54 L510.40,96.14" fill="none" stroke="#b8b8b8" stroke-width="0.5" opacity="0.45"/>
<path d="M486.47,93.88 L510.40,79.17" fill="none" stroke="#b8b8b8" stroke-width="0.5" opacity="0.45"/>
<path d="M462.55,97.27 L486.47,97.73 L510.40,68.98" fill="none" stroke="#b8b8b8" stroke-width="0.5" opacity="0.45"/>
<path d="M486.47,74.64 L510.40,64.45" fill="none" stroke="#b8b8b8" stroke-width="0.5" opacity="0.45"/>
<path d="M414.70,101.23 L438.62,100.89 L462.55,100.44" fill="none" stroke="#b8b8b8" stroke-width="0.5" opacity="0.45"/>
<path d="M438.62,101.46 L462.55,101.12 L486.47,100.67" fill="none" stroke="#b8b8b8" stroke-width="0.5" opacity="0.45"/>
<path d="M414.70,101.13 L438.62,100.86 L462.55,99.98 L486.47,99.06 L510.40,95.11" fill="none" stroke="#b8b8b8" stroke-width="0.5" opacity="0.45"/>
<path d="M438.62,99.98 L462.55,99.35 L486.47,96.35 L510.40,90.15" fill="none" stroke="#b8b8b8" stroke-width="0.5" opacity="0.45"/>
<path d="M438.62,101.50 L462.55,100.67 L486.47,100.85 L510.40,93.85" fill="none" stroke="#b8b8b8" stroke-width="0.5" opacity="0.45"/>
<path d="M414.70,101.14 L438.62,100.42 L462.55,98.78 L486.47,96.46 L510.40,91.95" fill="none" stroke="#b8b8b8" stroke-width="0.5" opacity="0.45"/>
<path d="M462.55,97.35 L486.47,94.30 L510.40,88.38" fill="none" stroke="#b8b8b8" stroke-width="0.5" opacity="0.45"/>
<path d="M414.70,100.21 L438.62,99.25 L462.55,97.80 L486.47,94.96 L510.40,91.70" fill="none" stroke="#b8b8b8" stroke-width="0.5" opacity="0.45"/>
<path d="M414.70,101.67 L438.62,101.22 L462.55,101.80 L486.47,101.80 L510.40,99.24" fill="none" stroke="#b8b8b8" stroke-width="0.5" opacity="0.45"/>
<path d="M462.55,96.93 L486.47,94.91 L510.40,89.76" fill="none" stroke="#b8b8b8" stroke-width="0.5" opacity="0.45"/>
<path d="M438.62,101.80 L462.55,101.80 L486.47,101.80 L510.40,100.67" fill="none" stroke="#b8b8b8" stroke-width="0.5" opacity="0.45"/>
<path d="M438.62,98.98 L462.55,97.50 L486.47,92.75 L510.40,87.76" fill="none" stroke="#b8b8b8" stroke-width="0.5" opacity="0.45"/>
<path d="M414.70,95.37 L417.09,95.18 L419.49,94.97 L421.88,94.75 L424.27,94.51 L426.66,94.26 L429.06,93.98 L431.45,93.69 L433.84,93.38 L436.23,93.04 L438.62,92.68 L441.02,92.29 L443.41,91.87 L445.80,91.43 L448.19,90.95 L450.59,90.44 L452.98,89.89 L455.37,89.29 L457.76,88.66 L460.16,87.98 L462.55,87.25 L464.94,86.47 L467.33,85.63 L469.73,84.73 L472.12,83.76 L474.51,82.73 L476.90,81.61 L479.30,80.42 L481.69,79.13 L484.08,77.76 L486.47,76.28 L488.87,74.69 L491.26,72.99 L493.65,71.16 L496.04,69.19 L498.44,67.08 L500.83,64.81 L503.22,62.38 L505.62,59.76 L508.01,56.95 L510.40,53.93 L510.40,67.06 L508.01,69.43 L505.62,71.66 L503.22,73.75 L500.83,75.70 L498.44,77.54 L496.04,79.25 L493.65,80.87 L491.26,82.38 L488.87,83.79 L486.47,85.11 L484.08,86.35 L481.69,87.52 L479.30,88.60 L476.90,89.62 L474.51,90.58 L472.12,91.47 L469.73,92.31 L467.33,93.09 L464.94,93.82 L462.55,94.51 L460.16,95.15 L457.76,95.75 L455.37,96.31 L452.98,96.84 L450.59,97.33 L448.19,97.79 L445.80,98.22 L443.41,98.62 L441.02,99.00 L438.62,99.35 L436.23,99.68 L433.84,99.99 L431.45,100.28 L429.06,100.55 L426.66,100.80 L424.27,101.03 L421.88,101.26 L419.49,101.46 L417.09,101.65 L414.70,101.83Z" fill="#999" opacity="0.33"/>
<path d="M414.70,94.59 L417.09,94.38 L419.49,94.15 L421.88,93.91 L424.27,93.66 L426.66,93.38 L429.06,93.09 L431.45,92.77 L433.84,92.43 L436.23,92.07 L438.62,91.68 L441.02,91.26 L443.41,90.81 L445.80,90.33 L448.19,89.81 L450.59,89.26 L452.98,88.66 L455.37,88.03 L457.76,87.34 L460.16,86.61 L462.55,85.82 L464.94,84.98 L467.33,84.08 L469.73,83.10 L472.12,82.06 L474.51,80.94 L476.90,79.74 L479.30,78.46 L481.69,77.08 L484.08,75.59 L486.47,74.00 L488.87,72.29 L491.26,70.46 L493.65,68.49 L496.04,66.37 L498.44,64.10 L500.83,61.67 L503.22,59.05 L505.62,56.24 L508.01,53.21 L510.40,49.97 L510.40,63.10 L508.01,65.70 L505.62,68.13 L503.22,70.41 L500.83,72.55 L498.44,74.56 L496.04,76.44 L493.65,78.20 L491.26,79.85 L488.87,81.39 L486.47,82.84 L484.08,84.19 L481.69,85.46 L479.30,86.65 L476.90,87.76 L474.51,88.80 L472.12,89.77 L469.73,90.68 L467.33,91.53 L464.94,92.33 L462.55,93.08 L460.16,93.78 L457.76,94.43 L455.37,95.04 L452.98,95.62 L450.59,96.15 L448.19,96.65 L445.80,97.12 L443.41,97.56 L441.02,97.97 L438.62,98.35 L436.23,98.71 L433.84,99.04 L431.45,99.36 L429.06,99.65 L426.66,99.92 L424.27,100.18 L421.88,100.42 L419.49,100.64 L417.09,100.85 L414.70,101.05Z" fill="#999" opacity="0.33"/>
<circle cx="414.70" cy="98.86" r="0.85" fill="#111" opacity="0.75"/>
<circle cx="438.62" cy="95.24" r="0.85" fill="#111" opacity="0.75"/>
<circle cx="462.55" cy="86.65" r="0.85" fill="#111" opacity="0.75"/>
<circle cx="486.47" cy="75.39" r="0.85" fill="#111" opacity="0.75"/>
<circle cx="510.40" cy="52.89" r="0.85" fill="#111" opacity="0.75"/>
<circle cx="438.62" cy="90.48" r="0.85" fill="#111" opacity="0.75"/>
<circle cx="462.55" cy="80.79" r="0.85" fill="#111" opacity="0.75"/>
<circle cx="486.47" cy="71.18" r="0.85" fill="#111" opacity="0.75"/>
<circle cx="510.40" cy="44.50" r="0.85" fill="#111" opacity="0.75"/>
<circle cx="462.55" cy="80.52" r="0.85" fill="#111" opacity="0.75"/>
<circle cx="486.47" cy="68.97" r="0.85" fill="#111" opacity="0.75"/>
<circle cx="510.40" cy="46.40" r="0.85" fill="#111" opacity="0.75"/>
<circle cx="438.62" cy="90.98" r="0.85" fill="#111" opacity="0.75"/>
<circle cx="462.55" cy="83.27" r="0.85" fill="#111" opacity="0.75"/>
<circle cx="486.47" cy="68.67" r="0.85" fill="#111" opacity="0.75"/>
<circle cx="510.40" cy="42.98" r="0.85" fill="#111" opacity="0.75"/>
<circle cx="462.55" cy="90.48" r="0.85" fill="#111" opacity="0.75"/>
<circle cx="486.47" cy="80.42" r="0.85" fill="#111" opacity="0.75"/>
<circle cx="510.40" cy="60.74" r="0.85" fill="#111" opacity="0.75"/>
<circle cx="486.47" cy="69.89" r="0.85" fill="#111" opacity="0.75"/>
<circle cx="510.40" cy="45.57" r="0.85" fill="#111" opacity="0.75"/>
<circle cx="486.47" cy="68.97" r="0.85" fill="#111" opacity="0.75"/>
<circle cx="510.40" cy="41.37" r="0.85" fill="#111" opacity="0.75"/>
<circle cx="414.70" cy="95.01" r="0.85" fill="#111" opacity="0.75"/>
<circle cx="438.62" cy="89.92" r="0.85" fill="#111" opacity="0.75"/>
<circle cx="462.55" cy="80.80" r="0.85" fill="#111" opacity="0.75"/>
<circle cx="486.47" cy="69.94" r="0.85" fill="#111" opacity="0.75"/>
<circle cx="510.40" cy="40.69" r="0.85" fill="#111" opacity="0.75"/>
<circle cx="462.55" cy="87.63" r="0.85" fill="#111" opacity="0.75"/>
<circle cx="486.47" cy="78.85" r="0.85" fill="#111" opacity="0.75"/>
<circle cx="510.40" cy="59.59" r="0.85" fill="#111" opacity="0.75"/>
<circle cx="414.70" cy="97.08" r="0.85" fill="#111" opacity="0.75"/>
<circle cx="438.62" cy="93.52" r="0.85" fill="#111" opacity="0.75"/>
<circle cx="462.55" cy="84.19" r="0.85" fill="#111" opacity="0.75"/>
<circle cx="486.47" cy="68.38" r="0.85" fill="#111" opacity="0.75"/>
<circle cx="510.40" cy="43.80" r="0.85" fill="#111" opacity="0.75"/>
<circle cx="414.70" cy="96.79" r="0.85" fill="#111" opacity="0.75"/>
<circle cx="438.62" cy="93.30" r="0.85" fill="#111" opacity="0.75"/>
<circle cx="462.55" cy="82.03" r="0.85" fill="#111" opacity="0.75"/>
<circle cx="486.47" cy="74.46" r="0.85" fill="#111" opacity="0.75"/>
<circle cx="510.40" cy="48.21" r="0.85" fill="#111" opacity="0.75"/>
<circle cx="414.70" cy="99.07" r="0.85" fill="#111" opacity="0.75"/>
<circle cx="438.62" cy="97.78" r="0.85" fill="#111" opacity="0.75"/>
<circle cx="462.55" cy="90.22" r="0.85" fill="#111" opacity="0.75"/>
<circle cx="486.47" cy="78.67" r="0.85" fill="#111" opacity="0.75"/>
<circle cx="510.40" cy="61.06" r="0.85" fill="#111" opacity="0.75"/>
<circle cx="438.62" cy="92.37" r="0.85" fill="#111" opacity="0.75"/>
<circle cx="462.55" cy="82.67" r="0.85" fill="#111" opacity="0.75"/>
<circle cx="486.47" cy="70.49" r="0.85" fill="#111" opacity="0.75"/>
<circle cx="510.40" cy="46.35" r="0.85" fill="#111" opacity="0.75"/>
<circle cx="462.55" cy="88.04" r="0.85" fill="#111" opacity="0.75"/>
<circle cx="486.47" cy="79.79" r="0.85" fill="#111" opacity="0.75"/>
<circle cx="510.40" cy="52.44" r="0.85" fill="#111" opacity="0.75"/>
<circle cx="462.55" cy="80.13" r="0.85" fill="#111" opacity="0.75"/>
<circle cx="486.47" cy="66.72" r="0.85" fill="#111" opacity="0.75"/>
<circle cx="510.40" cy="42.64" r="0.85" fill="#111" opacity="0.75"/>
<circle cx="414.70" cy="97.35" r="0.85" fill="#111" opacity="0.75"/>
<circle cx="438.62" cy="95.53" r="0.85" fill="#111" opacity="0.75"/>
<circle cx="462.55" cy="85.02" r="0.85" fill="#111" opacity="0.75"/>
<circle cx="486.47" cy="75.47" r="0.85" fill="#111" opacity="0.75"/>
<circle cx="510.40" cy="54.27" r="0.85" fill="#111" opacity="0.75"/>
<circle cx="414.70" cy="99.28" r="0.85" fill="#111" opacity="0.75"/>
<circle cx="438.62" cy="96.18" r="0.85" fill="#111" opacity="0.75"/>
<circle cx="462.55" cy="88.39" r="0.85" fill="#111" opacity="0.75"/>
<circle cx="486.47" cy="79.92" r="0.85" fill="#111" opacity="0.75"/>
<circle cx="510.40" cy="57.40" r="0.85" fill="#111" opacity="0.75"/>
<circle cx="486.47" cy="72.21" r="0.85" fill="#111" opacity="0.75"/>
<circle cx="510.40" cy="44.59" r="0.85" fill="#111" opacity="0.75"/>
<circle cx="438.62" cy="98.34" r="0.85" fill="#111" opacity="0.75"/>
<circle cx="462.55" cy="90.16" r="0.85" fill="#111" opacity="0.75"/>
<circle cx="486.47" cy="78.90" r="0.85" fill="#111" opacity="0.75"/>
<circle cx="510.40" cy="61.01" r="0.85" fill="#111" opacity="0.75"/>
<circle cx="414.70" cy="97.62" r="0.85" fill="#111" opacity="0.75"/>
<circle cx="438.62" cy="94.62" r="0.85" fill="#111" opacity="0.75"/>
<circle cx="462.55" cy="85.67" r="0.85" fill="#111" opacity="0.75"/>
<circle cx="486.47" cy="73.77" r="0.85" fill="#111" opacity="0.75"/>
<circle cx="510.40" cy="52.42" r="0.85" fill="#111" opacity="0.75"/>
<circle cx="486.47" cy="75.45" r="0.85" fill="#111" opacity="0.75"/>
<circle cx="510.40" cy="50.53" r="0.85" fill="#111" opacity="0.75"/>
<circle cx="438.62" cy="89.92" r="0.85" fill="#111" opacity="0.75"/>
<circle cx="462.55" cy="81.84" r="0.85" fill="#111" opacity="0.75"/>
<circle cx="486.47" cy="68.16" r="0.85" fill="#111" opacity="0.75"/>
<circle cx="510.40" cy="42.94" r="0.85" fill="#111" opacity="0.75"/>
<circle cx="462.55" cy="87.57" r="0.85" fill="#111" opacity="0.75"/>
<circle cx="486.47" cy="76.45" r="0.85" fill="#111" opacity="0.75"/>
<circle cx="510.40" cy="55.53" r="0.85" fill="#111" opacity="0.75"/>
<circle cx="438.62" cy="90.40" r="0.85" fill="#111" opacity="0.75"/>
<circle cx="462.55" cy="83.54" r="0.85" fill="#111" opacity="0.75"/>
<circle cx="486.47" cy="68.63" r="0.85" fill="#111" opacity="0.75"/>
<circle cx="510.40" cy="43.79" r="0.85" fill="#111" opacity="0.75"/>
<circle cx="414.70" cy="99.55" r="0.85" fill="#111" opacity="0.75"/>
<circle cx="438.62" cy="96.37" r="0.85" fill="#111" opacity="0.75"/>
<circle cx="462.55" cy="86.70" r="0.85" fill="#111" opacity="0.75"/>
<circle cx="486.47" cy="80.09" r="0.85" fill="#111" opacity="0.75"/>
<circle cx="510.40" cy="52.77" r="0.85" fill="#111" opacity="0.75"/>
<circle cx="414.70" cy="95.01" r="0.85" fill="#111" opacity="0.75"/>
<circle cx="438.62" cy="91.15" r="0.85" fill="#111" opacity="0.75"/>
<circle cx="462.55" cy="80.14" r="0.85" fill="#111" opacity="0.75"/>
<circle cx="486.47" cy="66.78" r="0.85" fill="#111" opacity="0.75"/>
<circle cx="510.40" cy="42.21" r="0.85" fill="#111" opacity="0.75"/>
<circle cx="438.62" cy="96.76" r="0.85" fill="#111" opacity="0.75"/>
<circle cx="462.55" cy="87.23" r="0.85" fill="#111" opacity="0.75"/>
<circle cx="486.47" cy="77.14" r="0.85" fill="#111" opacity="0.75"/>
<circle cx="510.40" cy="54.13" r="0.85" fill="#111" opacity="0.75"/>
<circle cx="414.70" cy="98.11" r="0.85" fill="#111" opacity="0.75"/>
<circle cx="438.62" cy="95.84" r="0.85" fill="#111" opacity="0.75"/>
<circle cx="462.55" cy="84.37" r="0.85" fill="#111" opacity="0.75"/>
<circle cx="486.47" cy="78.05" r="0.85" fill="#111" opacity="0.75"/>
<circle cx="510.40" cy="49.82" r="0.85" fill="#111" opacity="0.75"/>
<circle cx="438.62" cy="91.50" r="0.85" fill="#111" opacity="0.75"/>
<circle cx="462.55" cy="81.04" r="0.85" fill="#111" opacity="0.75"/>
<circle cx="486.47" cy="69.84" r="0.85" fill="#111" opacity="0.75"/>
<circle cx="510.40" cy="40.69" r="0.85" fill="#111" opacity="0.75"/>
<circle cx="438.62" cy="90.90" r="0.85" fill="#111" opacity="0.75"/>
<circle cx="462.55" cy="80.85" r="0.85" fill="#111" opacity="0.75"/>
<circle cx="486.47" cy="69.28" r="0.85" fill="#111" opacity="0.75"/>
<circle cx="510.40" cy="42.03" r="0.85" fill="#111" opacity="0.75"/>
<circle cx="462.55" cy="87.07" r="0.85" fill="#111" opacity="0.75"/>
<circle cx="486.47" cy="78.82" r="0.85" fill="#111" opacity="0.75"/>
<circle cx="510.40" cy="56.38" r="0.85" fill="#111" opacity="0.75"/>
<circle cx="414.70" cy="98.07" r="0.85" fill="#111" opacity="0.75"/>
<circle cx="438.62" cy="97.11" r="0.85" fill="#111" opacity="0.75"/>
<circle cx="462.55" cy="85.78" r="0.85" fill="#111" opacity="0.75"/>
<circle cx="486.47" cy="78.68" r="0.85" fill="#111" opacity="0.75"/>
<circle cx="510.40" cy="59.31" r="0.85" fill="#111" opacity="0.75"/>
<circle cx="414.70" cy="96.87" r="0.85" fill="#111" opacity="0.75"/>
<circle cx="438.62" cy="90.39" r="0.85" fill="#111" opacity="0.75"/>
<circle cx="462.55" cy="83.73" r="0.85" fill="#111" opacity="0.75"/>
<circle cx="486.47" cy="67.50" r="0.85" fill="#111" opacity="0.75"/>
<circle cx="510.40" cy="45.11" r="0.85" fill="#111" opacity="0.75"/>
<circle cx="462.55" cy="80.15" r="0.85" fill="#111" opacity="0.75"/>
<circle cx="486.47" cy="66.72" r="0.85" fill="#111" opacity="0.75"/>
<circle cx="510.40" cy="40.69" r="0.85" fill="#111" opacity="0.75"/>
<circle cx="462.55" cy="101.23" r="0.85" fill="#111" opacity="0.75"/>
<circle cx="486.47" cy="97.73" r="0.85" fill="#111" opacity="0.75"/>
<circle cx="510.40" cy="97.73" r="0.85" fill="#111" opacity="0.75"/>
<circle cx="462.55" cy="99.54" r="0.85" fill="#111" opacity="0.75"/>
<circle cx="486.47" cy="93.88" r="0.85" fill="#111" opacity="0.75"/>
<circle cx="510.40" cy="91.61" r="0.85" fill="#111" opacity="0.75"/>
<circle cx="438.62" cy="100.67" r="0.85" fill="#111" opacity="0.75"/>
<circle cx="462.55" cy="97.27" r="0.85" fill="#111" opacity="0.75"/>
<circle cx="486.47" cy="93.88" r="0.85" fill="#111" opacity="0.75"/>
<circle cx="510.40" cy="87.09" r="0.85" fill="#111" opacity="0.75"/>
<circle cx="462.55" cy="100.67" r="0.85" fill="#111" opacity="0.75"/>
<circle cx="486.47" cy="99.54" r="0.85" fill="#111" opacity="0.75"/>
<circle cx="510.40" cy="96.14" r="0.85" fill="#111" opacity="0.75"/>
<circle cx="486.47" cy="93.88" r="0.85" fill="#111" opacity="0.75"/>
<circle cx="510.40" cy="79.17" r="0.85" fill="#111" opacity="0.75"/>
<circle cx="462.55" cy="97.27" r="0.85" fill="#111" opacity="0.75"/>
<circle cx="486.47" cy="97.73" r="0.85" fill="#111" opacity="0.75"/>
<circle cx="510.40" cy="68.98" r="0.85" fill="#111" opacity="0.75"/>
<circle cx="486.47" cy="74.64" r="0.85" fill="#111" opacity="0.75"/>
<circle cx="510.40" cy="64.45" r="0.85" fill="#111" opacity="0.75"/>
<circle cx="414.70" cy="101.23" r="0.85" fill="#111" opacity="0.75"/>
<circle cx="438.62" cy="100.89" r="0.85" fill="#111" opacity="0.75"/>
<circle cx="462.55" cy="100.44" r="0.85" fill="#111" opacity="0.75"/>
<circle cx="438.62" cy="101.46" r="0.85" fill="#111" opacity="0.75"/>
<circle cx="462.55" cy="101.12" r="0.85" fill="#111" opacity="0.75"/>
<circle cx="486.47" cy="100.67" r="0.85" fill="#111" opacity="0.75"/>
<circle cx="414.70" cy="101.13" r="0.85" fill="#111" opacity="0.75"/>
<circle cx="438.62" cy="100.86" r="0.85" fill="#111" opacity="0.75"/>
<circle cx="462.55" cy="99.98" r="0.85" fill="#111" opacity="0.75"/>
<circle cx="486.47" cy="99.06" r="0.85" fill="#111" opacity="0.75"/>
<circle cx="510.40" cy="95.11" r="0.85" fill="#111" opacity="0.75"/>
<circle cx="438.62" cy="99.98" r="0.85" fill="#111" opacity="0.75"/>
<circle cx="462.55" cy="99.35" r="0.85" fill="#111" opacity="0.75"/>
<circle cx="486.47" cy="96.35" r="0.85" fill="#111" opacity="0.75"/>
<circle cx="510.40" cy="90.15" r="0.85" fill="#111" opacity="0.75"/>
<circle cx="438.62" cy="101.50" r="0.85" fill="#111" opacity="0.75"/>
<circle cx="462.55" cy="100.67" r="0.85" fill="#111" opacity="0.75"/>
<circle cx="486.47" cy="100.85" r="0.85" fill="#111" opacity="0.75"/>
<circle cx="510.40" cy="93.85" r="0.85" fill="#111" opacity="0.75"/>
<circle cx="414.70" cy="101.14" r="0.85" fill="#111" opacity="0.75"/>
<circle cx="438.62" cy="100.42" r="0.85" fill="#111" opacity="0.75"/>
<circle cx="462.55" cy="98.78" r="0.85" fill="#111" opacity="0.75"/>
<circle cx="486.47" cy="96.46" r="0.85" fill="#111" opacity="0.75"/>
<circle cx="510.40" cy="91.95" r="0.85" fill="#111" opacity="0.75"/>
<circle cx="462.55" cy="97.35" r="0.85" fill="#111" opacity="0.75"/>
<circle cx="486.47" cy="94.30" r="0.85" fill="#111" opacity="0.75"/>
<circle cx="510.40" cy="88.38" r="0.85" fill="#111" opacity="0.75"/>
<circle cx="414.70" cy="100.21" r="0.85" fill="#111" opacity="0.75"/>
<circle cx="438.62" cy="99.25" r="0.85" fill="#111" opacity="0.75"/>
<circle cx="462.55" cy="97.80" r="0.85" fill="#111" opacity="0.75"/>
<circle cx="486.47" cy="94.96" r="0.85" fill="#111" opacity="0.75"/>
<circle cx="510.40" cy="91.70" r="0.85" fill="#111" opacity="0.75"/>
<circle cx="414.70" cy="101.67" r="0.85" fill="#111" opacity="0.75"/>
<circle cx="438.62" cy="101.22" r="0.85" fill="#111" opacity="0.75"/>
<circle cx="462.55" cy="101.80" r="0.85" fill="#111" opacity="0.75"/>
<circle cx="486.47" cy="101.80" r="0.85" fill="#111" opacity="0.75"/>
<circle cx="510.40" cy="99.24" r="0.85" fill="#111" opacity="0.75"/>
<circle cx="462.55" cy="96.93" r="0.85" fill="#111" opacity="0.75"/>
<circle cx="486.47" cy="94.91" r="0.85" fill="#111" opacity="0.75"/>
<circle cx="510.40" cy="89.76" r="0.85" fill="#111" opacity="0.75"/>
<circle cx="438.62" cy="101.80" r="0.85" fill="#111" opacity="0.75"/>
<circle cx="462.55" cy="101.80" r="0.85" fill="#111" opacity="0.75"/>
<circle cx="486.47" cy="101.80" r="0.85" fill="#111" opacity="0.75"/>
<circle cx="510.40" cy="100.67" r="0.85" fill="#111" opacity="0.75"/>
<circle cx="438.62" cy="98.98" r="0.85" fill="#111" opacity="0.75"/>
<circle cx="462.55" cy="97.50" r="0.85" fill="#111" opacity="0.75"/>
<circle cx="486.47" cy="92.75" r="0.85" fill="#111" opacity="0.75"/>
<circle cx="510.40" cy="87.76" r="0.85" fill="#111" opacity="0.75"/>
<circle cx="486.47" cy="91.61" r="0.85" fill="#111" opacity="0.75"/>
<circle cx="486.47" cy="89.35" r="0.85" fill="#111" opacity="0.75"/>
<circle cx="486.47" cy="87.09" r="0.85" fill="#111" opacity="0.75"/>
<circle cx="486.47" cy="84.82" r="0.85" fill="#111" opacity="0.75"/>
<circle cx="486.47" cy="82.56" r="0.85" fill="#111" opacity="0.75"/>
<circle cx="486.47" cy="64.45" r="0.85" fill="#111" opacity="0.75"/>
<circle cx="486.47" cy="62.19" r="0.85" fill="#111" opacity="0.75"/>
<circle cx="462.55" cy="95.01" r="0.85" fill="#111" opacity="0.75"/>
<circle cx="462.55" cy="93.31" r="0.85" fill="#111" opacity="0.75"/>
<circle cx="462.55" cy="91.61" r="0.85" fill="#111" opacity="0.75"/>
<circle cx="438.62" cy="100.67" r="0.85" fill="#111" opacity="0.75"/>
<circle cx="438.62" cy="99.54" r="0.85" fill="#111" opacity="0.75"/>
<circle cx="438.62" cy="96.71" r="0.85" fill="#111" opacity="0.75"/>
<circle cx="414.70" cy="101.23" r="0.85" fill="#111" opacity="0.75"/>
<circle cx="414.70" cy="100.67" r="0.85" fill="#111" opacity="0.75"/>
<circle cx="414.70" cy="98.97" r="0.85" fill="#111" opacity="0.75"/>
<circle cx="414.70" cy="97.84" r="0.85" fill="#111" opacity="0.75"/>
<path d="M414.70,98.60 L417.09,98.42 L419.49,98.22 L421.88,98.00 L424.27,97.77 L426.66,97.53 L429.06,97.27 L431.45,96.98 L433.84,96.68 L436.23,96.36 L438.62,96.01 L441.02,95.64 L443.41,95.25 L445.80,94.82 L448.19,94.37 L450.59,93.88 L452.98,93.36 L455.37,92.80 L457.76,92.21 L460.16,91.57 L462.55,90.88 L464.94,90.15 L467.33,89.36 L469.73,88.52 L472.12,87.62 L474.51,86.65 L476.90,85.62 L479.30,84.51 L481.69,83.33 L484.08,82.06 L486.47,80.70 L488.87,79.24 L491.26,77.68 L493.65,76.01 L496.04,74.22 L498.44,72.31 L500.83,70.26 L503.22,68.06 L505.62,65.71 L508.01,63.19 L510.40,60.49" fill="none" stroke="#245a70" stroke-width="1.5"/>
<path d="M414.70,97.82 L417.09,97.62 L419.49,97.40 L421.88,97.17 L424.27,96.92 L426.66,96.65 L429.06,96.37 L431.45,96.06 L433.84,95.74 L436.23,95.39 L438.62,95.01 L441.02,94.61 L443.41,94.18 L445.80,93.72 L448.19,93.23 L450.59,92.70 L452.98,92.14 L455.37,91.54 L457.76,90.89 L460.16,90.19 L462.55,89.45 L464.94,88.66 L467.33,87.81 L469.73,86.89 L472.12,85.92 L474.51,84.87 L476.90,83.75 L479.30,82.55 L481.69,81.27 L484.08,79.89 L486.47,78.42 L488.87,76.84 L491.26,75.15 L493.65,73.34 L496.04,71.41 L498.44,69.33 L500.83,67.11 L503.22,64.73 L505.62,62.18 L508.01,59.46 L510.40,56.53" fill="none" stroke="#ab2a4f" stroke-width="1.5"/>
<rect x="411.00" y="28.40" width="102.10" height="80.80" fill="none" stroke="#222" stroke-width="1.3"/>
<line x1="414.50" y1="109.20" x2="414.50" y2="111.70" stroke="#222" stroke-width="1"/>
<text transform="translate(414.70 121.60) scale(0.920 1)" font-size="7.2" text-anchor="middle" fill="#333" stroke="#333" stroke-width="0.239">−20</text>
<line x1="438.50" y1="109.20" x2="438.50" y2="111.70" stroke="#222" stroke-width="1"/>
<text transform="translate(438.62 121.60) scale(0.920 1)" font-size="7.2" text-anchor="middle" fill="#333" stroke="#333" stroke-width="0.239">−15</text>
<line x1="462.50" y1="109.20" x2="462.50" y2="111.70" stroke="#222" stroke-width="1"/>
<text transform="translate(462.55 121.60) scale(0.920 1)" font-size="7.2" text-anchor="middle" fill="#333" stroke="#333" stroke-width="0.239">−10</text>
<line x1="486.50" y1="109.20" x2="486.50" y2="111.70" stroke="#222" stroke-width="1"/>
<text transform="translate(486.47 121.60) scale(0.920 1)" font-size="7.2" text-anchor="middle" fill="#333" stroke="#333" stroke-width="0.239">−5</text>
<line x1="510.50" y1="109.20" x2="510.50" y2="111.70" stroke="#222" stroke-width="1"/>
<text transform="translate(510.40 121.60) scale(0.920 1)" font-size="7.2" text-anchor="middle" fill="#333" stroke="#333" stroke-width="0.239">0</text>
<circle cx="510.4" cy="39.56" r="0.85" fill="#888" opacity="0.6"/>
<line x1="486.48" y1="72.94" x2="510.4" y2="39.56" stroke="#d8b8c0" stroke-width="0.5" opacity="0.6"/>
<circle cx="510.4" cy="37.29" r="0.85" fill="#888" opacity="0.6"/>
<line x1="486.48" y1="71.81" x2="510.4" y2="37.29" stroke="#d8b8c0" stroke-width="0.5" opacity="0.6"/>
<circle cx="510.4" cy="35.60" r="0.85" fill="#888" opacity="0.6"/>
<line x1="486.48" y1="70.96" x2="510.4" y2="35.60" stroke="#d8b8c0" stroke-width="0.5" opacity="0.6"/>
<circle cx="510.4" cy="33.90" r="0.85" fill="#888" opacity="0.6"/>
<line x1="486.48" y1="70.11" x2="510.4" y2="33.90" stroke="#d8b8c0" stroke-width="0.5" opacity="0.6"/>
<circle cx="510.4" cy="32.20" r="0.85" fill="#888" opacity="0.6"/>
<line x1="486.48" y1="69.26" x2="510.4" y2="32.20" stroke="#d8b8c0" stroke-width="0.5" opacity="0.6"/>
<text transform="translate(354.00 24.00)" font-size="8.2" text-anchor="middle" fill="#333" stroke="#333" stroke-width="0.220"><tspan font-style="italic">IDH1</tspan></text>
<text transform="translate(462.20 24.00)" font-size="8.2" text-anchor="middle" fill="#333" stroke="#333" stroke-width="0.220"><tspan font-style="italic">IDH2</tspan></text>
<text transform="translate(281.60 70.50) rotate(-90) scale(0.920 1)" font-size="7.2" text-anchor="middle" fill="#333" stroke="#333" stroke-width="0.239">VAF</text>
<text transform="translate(407.80 133.00) scale(0.816 1)" font-size="8" text-anchor="middle" fill="#333" stroke="#333" stroke-width="0.270">Time (years)</text>
<rect x="374.40" y="140.40" width="6.80" height="6.40" fill="#dccbd0"/>
<line x1="374.4" y1="143.6" x2="381.2" y2="143.6" stroke="#7a2e45" stroke-width="1.3"/>
<text transform="translate(384.00 145.80) scale(0.899 1)" font-size="6.8" fill="#333" stroke="#333" stroke-width="0.245">AIRD</text>
<rect x="405.00" y="140.40" width="7.00" height="6.40" fill="#cad5e0"/>
<line x1="405" y1="143.6" x2="412" y2="143.6" stroke="#2f4a66" stroke-width="1.3"/>
<text transform="translate(415.60 145.80) scale(0.930 1)" font-size="6.8" fill="#333" stroke="#333" stroke-width="0.237">No AIRD</text>
<text transform="translate(6.60 172.60)" font-size="11.2" font-weight="bold" fill="#111">D</text>
<line x1="53.50" y1="184.30" x2="53.50" y2="277.50" stroke="#333" stroke-width="1"/>
<line x1="50.30" y1="188.50" x2="53.50" y2="188.50" stroke="#333" stroke-width="1"/>
<text transform="translate(47.00 190.48) scale(0.980 1)" font-size="6.6" text-anchor="end" fill="#333" stroke="#333" stroke-width="0.224">10000</text>
<line x1="50.30" y1="210.50" x2="53.50" y2="210.50" stroke="#333" stroke-width="1"/>
<text transform="translate(47.00 212.68) scale(0.980 1)" font-size="6.6" text-anchor="end" fill="#333" stroke="#333" stroke-width="0.224">1000</text>
<line x1="50.30" y1="232.50" x2="53.50" y2="232.50" stroke="#333" stroke-width="1"/>
<text transform="translate(47.00 234.88) scale(0.980 1)" font-size="6.6" text-anchor="end" fill="#333" stroke="#333" stroke-width="0.224">100</text>
<line x1="50.30" y1="254.50" x2="53.50" y2="254.50" stroke="#333" stroke-width="1"/>
<text transform="translate(47.00 257.08) scale(0.980 1)" font-size="6.6" text-anchor="end" fill="#333" stroke="#333" stroke-width="0.224">10</text>
<line x1="50.30" y1="276.50" x2="53.50" y2="276.50" stroke="#333" stroke-width="1"/>
<text transform="translate(47.00 279.28) scale(0.980 1)" font-size="6.6" text-anchor="end" fill="#333" stroke="#333" stroke-width="0.224">1</text>
<line x1="53.00" y1="277.50" x2="179.00" y2="277.50" stroke="#333" stroke-width="1"/>
<line x1="74.50" y1="277.50" x2="74.50" y2="280.20" stroke="#333" stroke-width="1"/>
<line x1="116.50" y1="277.50" x2="116.50" y2="280.20" stroke="#333" stroke-width="1"/>
<line x1="158.50" y1="277.50" x2="158.50" y2="280.20" stroke="#333" stroke-width="1"/>
<rect x="60.80" y="255.00" width="27.40" height="22.50" fill="#3aaa35"/>
<line x1="74.50" y1="255.00" x2="74.50" y2="252.10" stroke="#2a7d2a" stroke-width="1"/>
<line x1="68.10" y1="252.50" x2="80.90" y2="252.50" stroke="#2a7d2a" stroke-width="1"/>
<rect x="102.90" y="212.10" width="27.40" height="65.40" fill="#c90c2d"/>
<line x1="116.50" y1="212.10" x2="116.50" y2="201.30" stroke="#a51030" stroke-width="1"/>
<line x1="110.10" y1="201.50" x2="123.10" y2="201.50" stroke="#a51030" stroke-width="1"/>
<rect x="144.90" y="263.10" width="27.30" height="14.40" fill="#114f8f"/>
<line x1="158.50" y1="263.10" x2="158.50" y2="258.00" stroke="#0d3560" stroke-width="1"/>
<line x1="152.05" y1="258.50" x2="165.05" y2="258.50" stroke="#0d3560" stroke-width="1"/>
<line x1="73.10" y1="180.50" x2="158.40" y2="180.50" stroke="#444" stroke-width="1"/>
<text transform="translate(115.80 177.60)" font-size="6.6" text-anchor="middle" fill="#333" stroke="#333" stroke-width="0.220"><tspan font-style="italic">P</tspan> = .036</text>
<line x1="73.10" y1="191.50" x2="116.70" y2="191.50" stroke="#444" stroke-width="1"/>
<text transform="translate(94.60 189.20)" font-size="6.6" text-anchor="middle" fill="#333" stroke="#333" stroke-width="0.220"><tspan font-style="italic">P</tspan> = .057</text>
<line x1="116.00" y1="198.50" x2="158.40" y2="198.50" stroke="#444" stroke-width="1"/>
<text transform="translate(137.80 196.00) scale(0.986 1)" font-size="6.6" text-anchor="middle" fill="#333" stroke="#333" stroke-width="0.223"><tspan font-style="italic">P</tspan> = .016</text>
<text transform="translate(14.40 230.20) rotate(-90) scale(0.838 1)" font-size="7.8" text-anchor="middle" fill="#333" stroke="#333" stroke-width="0.263">Ratio of classical to</text>
<text transform="translate(23.60 230.60) rotate(-90) scale(0.830 1)" font-size="7.8" text-anchor="middle" fill="#333" stroke="#333" stroke-width="0.265">non-classical monocytes</text>
<text transform="translate(74.40 289.20) scale(0.978 1)" font-size="6.7" text-anchor="middle" fill="#333" stroke="#333" stroke-width="0.225">Healthy control</text>
<text transform="translate(74.40 296.60) scale(0.971 1)" font-size="6.6" text-anchor="middle" fill="#333" stroke="#333" stroke-width="0.227">(n = 3)</text>
<text transform="translate(116.90 289.20) scale(0.856 1)" font-size="6.7" text-anchor="middle" fill="#333" stroke="#333" stroke-width="0.257">AIRD</text>
<text transform="translate(116.40 296.60) scale(0.971 1)" font-size="6.6" text-anchor="middle" fill="#333" stroke="#333" stroke-width="0.227">(n = 4)</text>
<text transform="translate(159.00 289.20) scale(1.022 1)" font-size="6.7" text-anchor="middle" fill="#333" stroke="#333" stroke-width="0.215">no AIRD</text>
<text transform="translate(158.70 296.60) scale(1.013 1)" font-size="6.6" text-anchor="middle" fill="#333" stroke="#333" stroke-width="0.217">(n = 5)</text>
<line x1="107.00" y1="300.50" x2="165.50" y2="300.50" stroke="#333" stroke-width="1"/>
<text transform="translate(138.10 310.20) scale(0.902 1)" font-size="7.6" text-anchor="middle" fill="#333" stroke="#333" stroke-width="0.244">Myeloid neoplasms</text>
<text transform="translate(198.20 172.10)" font-size="11.2" font-weight="bold" fill="#111">E</text>
<rect x="226.20" y="162.70" width="59.60" height="12.10" fill="#1b4f8c"/>
<text transform="translate(256.00 171.40) scale(0.895 1)" font-size="7.3" text-anchor="middle" fill="#fff">MN- no AIRD</text>
<rect x="290.20" y="162.50" width="60.20" height="12.30" fill="#c8102e"/>
<text transform="translate(320.30 171.40) scale(0.883 1)" font-size="7.3" text-anchor="middle" fill="#fff">MN- AIRD</text>
<text transform="translate(286.50 183.80) scale(0.979 1)" font-size="7" text-anchor="middle" fill="#333" stroke="#333" stroke-width="0.225">No effect</text>
<line x1="235.50" y1="185.50" x2="235.50" y2="277.30" stroke="#333" stroke-width="1"/>
<line x1="232.40" y1="188.50" x2="235.60" y2="188.50" stroke="#333" stroke-width="1"/>
<line x1="232.40" y1="217.50" x2="235.60" y2="217.50" stroke="#333" stroke-width="1"/>
<line x1="232.40" y1="247.50" x2="235.60" y2="247.50" stroke="#333" stroke-width="1"/>
<line x1="232.40" y1="276.50" x2="235.60" y2="276.50" stroke="#333" stroke-width="1"/>
<line x1="234.00" y1="203.50" x2="235.60" y2="203.50" stroke="#333" stroke-width="1"/>
<line x1="234.00" y1="232.50" x2="235.60" y2="232.50" stroke="#333" stroke-width="1"/>
<line x1="234.00" y1="262.50" x2="235.60" y2="262.50" stroke="#333" stroke-width="1"/>
<text transform="translate(225.00 190.50) scale(0.914 1)" font-size="6.8" text-anchor="end" fill="#333" stroke="#333" stroke-width="0.241">1×10</text>
<text transform="translate(225.30 187.50)" font-size="4.4" fill="#333" stroke="#333" stroke-width="0.220">-6</text>
<text transform="translate(225.00 220.00) scale(0.914 1)" font-size="6.8" text-anchor="end" fill="#333" stroke="#333" stroke-width="0.241">1×10</text>
<text transform="translate(225.30 217.00)" font-size="4.4" fill="#333" stroke="#333" stroke-width="0.220">-4</text>
<text transform="translate(225.00 249.50) scale(0.914 1)" font-size="6.8" text-anchor="end" fill="#333" stroke="#333" stroke-width="0.241">1×10</text>
<text transform="translate(225.30 246.50)" font-size="4.4" fill="#333" stroke="#333" stroke-width="0.220">-2</text>
<text transform="translate(225.00 279.00) scale(0.914 1)" font-size="6.8" text-anchor="end" fill="#333" stroke="#333" stroke-width="0.241">1×10</text>
<text transform="translate(225.30 276.00)" font-size="4.4" fill="#333" stroke="#333" stroke-width="0.220">0</text>
<line x1="235.60" y1="277.50" x2="357.00" y2="277.50" stroke="#333" stroke-width="1"/>
<line x1="235.50" y1="277.30" x2="235.50" y2="279.90" stroke="#333" stroke-width="1"/>
<text transform="translate(235.75 289.50) scale(0.930 1)" font-size="6.8" text-anchor="middle" fill="#333" stroke="#333" stroke-width="0.237">0.125</text>
<line x1="252.50" y1="277.30" x2="252.50" y2="279.90" stroke="#333" stroke-width="1"/>
<text transform="translate(252.70 289.50) scale(0.930 1)" font-size="6.8" text-anchor="middle" fill="#333" stroke="#333" stroke-width="0.237">0.25</text>
<line x1="269.50" y1="277.30" x2="269.50" y2="279.90" stroke="#333" stroke-width="1"/>
<text transform="translate(269.65 289.50) scale(0.930 1)" font-size="6.8" text-anchor="middle" fill="#333" stroke="#333" stroke-width="0.237">0.5</text>
<line x1="286.50" y1="277.30" x2="286.50" y2="279.90" stroke="#333" stroke-width="1"/>
<text transform="translate(286.60 289.50) scale(0.930 1)" font-size="6.8" text-anchor="middle" fill="#333" stroke="#333" stroke-width="0.237">1</text>
<line x1="303.50" y1="277.30" x2="303.50" y2="279.90" stroke="#333" stroke-width="1"/>
<text transform="translate(303.55 289.50) scale(0.930 1)" font-size="6.8" text-anchor="middle" fill="#333" stroke="#333" stroke-width="0.237">2</text>
<line x1="320.50" y1="277.30" x2="320.50" y2="279.90" stroke="#333" stroke-width="1"/>
<text transform="translate(320.50 289.50) scale(0.930 1)" font-size="6.8" text-anchor="middle" fill="#333" stroke="#333" stroke-width="0.237">4</text>
<line x1="337.50" y1="277.30" x2="337.50" y2="279.90" stroke="#333" stroke-width="1"/>
<text transform="translate(337.45 289.50) scale(0.930 1)" font-size="6.8" text-anchor="middle" fill="#333" stroke="#333" stroke-width="0.237">8</text>
<line x1="354.50" y1="277.30" x2="354.50" y2="279.90" stroke="#333" stroke-width="1"/>
<text transform="translate(354.40 289.50) scale(0.930 1)" font-size="6.8" text-anchor="middle" fill="#333" stroke="#333" stroke-width="0.237">16</text>
<line x1="286.50" y1="188.00" x2="286.50" y2="277.00" stroke="#333" stroke-width="1" stroke-dasharray="2.2,1.6"/>
<line x1="236.00" y1="257.50" x2="358.00" y2="257.50" stroke="#444" stroke-width="1" stroke-dasharray="2.6,1.6"/>
<text transform="translate(347.20 265.10) scale(0.953 1)" font-size="6.8" text-anchor="middle" fill="#333" stroke="#333" stroke-width="0.231">P = .05</text>
<text transform="translate(205.40 231.20) rotate(-90)" font-size="7.2" text-anchor="middle" fill="#333" stroke="#333" stroke-width="0.220"><tspan font-style="italic">P</tspan> value</text>
<text transform="translate(295.90 300.30) scale(0.829 1)" font-size="8" text-anchor="middle" fill="#333" stroke="#333" stroke-width="0.265">Fold change</text>
<circle cx="347.9" cy="201.7" r="1.1" fill="#b80f2b"/>
<circle cx="322.9" cy="220" r="1.1" fill="#b80f2b"/>
<circle cx="336.3" cy="218.5" r="1.1" fill="#b80f2b"/>
<circle cx="327.1" cy="227.1" r="1.1" fill="#b80f2b"/>
<circle cx="320.4" cy="233.5" r="1.1" fill="#b80f2b"/>
<circle cx="333.1" cy="238.7" r="1.1" fill="#b80f2b"/>
<circle cx="326.2" cy="239.2" r="1.1" fill="#b80f2b"/>
<circle cx="322.9" cy="248.3" r="1.1" fill="#b80f2b"/>
<circle cx="303.7" cy="251.2" r="1.1" fill="#b80f2b"/>
<circle cx="309.4" cy="250.8" r="1.1" fill="#b80f2b"/>
<circle cx="307.9" cy="255" r="1.1" fill="#b80f2b"/>
<circle cx="303.3" cy="251.6" r="1.1" fill="#b80f2b"/>
<circle cx="306.9" cy="254.6" r="1.1" fill="#b80f2b"/>
<circle cx="251.3" cy="274.5" r="1.05" fill="#173f73"/>
<circle cx="253" cy="271.2" r="1.05" fill="#173f73"/>
<circle cx="262" cy="275.3" r="1.05" fill="#173f73"/>
<circle cx="273.4" cy="270.4" r="1.05" fill="#173f73"/>
<circle cx="276.7" cy="270.4" r="1.05" fill="#173f73"/>
<circle cx="272.3" cy="275" r="1.05" fill="#173f73"/>
<circle cx="296.8" cy="261.4" r="1.05" fill="#173f73"/>
<circle cx="295.8" cy="270.4" r="1.05" fill="#173f73"/>
<circle cx="296.3" cy="272.6" r="1.05" fill="#173f73"/>
<circle cx="297.9" cy="268.3" r="1.05" fill="#173f73"/>
<circle cx="306.1" cy="262.7" r="1.05" fill="#173f73"/>
<circle cx="306.9" cy="266.3" r="1.05" fill="#173f73"/>
<circle cx="309" cy="259" r="1.05" fill="#173f73"/>
<circle cx="313.5" cy="263.9" r="1.05" fill="#173f73"/>
<circle cx="274.2" cy="275.5" r="1.05" fill="#173f73"/>
<circle cx="275.3" cy="275.9" r="1.05" fill="#173f73"/>
<circle cx="276.4" cy="276.3" r="1.05" fill="#173f73"/>
<circle cx="277.5" cy="275.5" r="1.05" fill="#173f73"/>
<circle cx="278.59999999999997" cy="275.9" r="1.05" fill="#173f73"/>
<circle cx="279.7" cy="276.3" r="1.05" fill="#173f73"/>
<circle cx="280.8" cy="275.5" r="1.05" fill="#173f73"/>
<circle cx="281.9" cy="275.9" r="1.05" fill="#173f73"/>
<circle cx="283.0" cy="276.3" r="1.05" fill="#173f73"/>
<circle cx="284.09999999999997" cy="275.5" r="1.05" fill="#173f73"/>
<circle cx="285.2" cy="275.9" r="1.05" fill="#173f73"/>
<circle cx="286.3" cy="276.3" r="1.05" fill="#173f73"/>
<circle cx="287.4" cy="275.5" r="1.05" fill="#173f73"/>
<circle cx="288.5" cy="275.9" r="1.05" fill="#173f73"/>
<text transform="translate(336.00 199.40) scale(0.883 1)" font-size="7" fill="#333" stroke="#333" stroke-width="0.249">IL-12p70</text>
<text transform="translate(293.00 217.80) scale(0.859 1)" font-size="7" fill="#333" stroke="#333" stroke-width="0.256">FRACTALKINE</text>
<text transform="translate(337.70 220.90) scale(0.932 1)" font-size="7" fill="#333" stroke="#333" stroke-width="0.236">IFNα2</text>
<text transform="translate(329.60 229.10) scale(0.829 1)" font-size="7" fill="#333" stroke="#333" stroke-width="0.265">IL-2</text>
<text transform="translate(322.90 234.90) scale(0.840 1)" font-size="7" fill="#333" stroke="#333" stroke-width="0.262">IL-15</text>
<text transform="translate(335.00 240.70) scale(0.884 1)" font-size="7" fill="#333" stroke="#333" stroke-width="0.249">GM-CSF</text>
<text transform="translate(327.70 245.10) scale(0.829 1)" font-size="7" fill="#333" stroke="#333" stroke-width="0.265">IL-9</text>
<text transform="translate(324.80 251.20) scale(0.870 1)" font-size="7" fill="#333" stroke="#333" stroke-width="0.253">IL-1β</text>
<text transform="translate(289.80 250.30) scale(0.820 1)" font-size="7" fill="#333" stroke="#333" stroke-width="0.268">TGFα</text>
<text transform="translate(306.90 248.90) scale(0.954 1)" font-size="7" fill="#333" stroke="#333" stroke-width="0.231">IFNγ</text>
<text transform="translate(311.00 257.40) scale(0.826 1)" font-size="7" fill="#333" stroke="#333" stroke-width="0.266">FGF-2</text>
<text transform="translate(379.00 171.40)" font-size="11.2" font-weight="bold" fill="#111">F</text>
<line x1="428.50" y1="184.50" x2="428.50" y2="277.50" stroke="#333" stroke-width="1"/>
<line x1="425.20" y1="188.50" x2="428.40" y2="188.50" stroke="#333" stroke-width="1"/>
<text transform="translate(422.80 190.48) scale(0.990 1)" font-size="6.6" text-anchor="end" fill="#333" stroke="#333" stroke-width="0.222">600000</text>
<line x1="425.20" y1="217.50" x2="428.40" y2="217.50" stroke="#333" stroke-width="1"/>
<text transform="translate(422.80 220.18) scale(0.990 1)" font-size="6.6" text-anchor="end" fill="#333" stroke="#333" stroke-width="0.222">400000</text>
<line x1="425.20" y1="247.50" x2="428.40" y2="247.50" stroke="#333" stroke-width="1"/>
<text transform="translate(422.80 249.88) scale(0.990 1)" font-size="6.6" text-anchor="end" fill="#333" stroke="#333" stroke-width="0.222">200000</text>
<line x1="425.20" y1="277.50" x2="428.40" y2="277.50" stroke="#333" stroke-width="1"/>
<text transform="translate(422.80 279.58) scale(0.990 1)" font-size="6.6" text-anchor="end" fill="#333" stroke="#333" stroke-width="0.222">0</text>
<line x1="428.00" y1="277.50" x2="510.50" y2="277.50" stroke="#333" stroke-width="1"/>
<line x1="449.50" y1="277.50" x2="449.50" y2="280.20" stroke="#333" stroke-width="1"/>
<line x1="490.50" y1="277.50" x2="490.50" y2="280.20" stroke="#333" stroke-width="1"/>
<rect x="436.30" y="265.70" width="26.60" height="11.80" fill="#3aaa35"/>
<line x1="449.50" y1="265.70" x2="449.50" y2="254.40" stroke="#3aaa35" stroke-width="1"/>
<line x1="443.95" y1="254.50" x2="455.25" y2="254.50" stroke="#3aaa35" stroke-width="1"/>
<rect x="477.60" y="222.70" width="26.50" height="54.80" fill="#5b1f6b"/>
<line x1="490.50" y1="222.70" x2="490.50" y2="201.10" stroke="#5b1f6b" stroke-width="1"/>
<line x1="485.55" y1="201.50" x2="496.15" y2="201.50" stroke="#5b1f6b" stroke-width="1"/>
<text transform="translate(470.10 195.90) scale(0.989 1)" font-size="6.6" text-anchor="middle" fill="#333" stroke="#333" stroke-width="0.223"><tspan font-style="italic">P</tspan> = .0028</text>
<text transform="translate(386.60 230.75) rotate(-90) scale(0.949 1)" font-size="7" text-anchor="middle" fill="#333" stroke="#333" stroke-width="0.232">pHrodo fluorescence</text>
<text transform="translate(395.80 231.00) rotate(-90) scale(0.974 1)" font-size="7" text-anchor="middle" fill="#333" stroke="#333" stroke-width="0.226">intensity</text>
<text transform="translate(449.80 288.80) scale(0.985 1)" font-size="6.7" text-anchor="middle" fill="#333" stroke="#333" stroke-width="0.223">Healthy control</text>
<text transform="translate(449.60 296.70) scale(0.987 1)" font-size="6.6" text-anchor="middle" fill="#333" stroke="#333" stroke-width="0.223">(n = 3)</text>
<text transform="translate(490.80 288.80)" font-size="6.7" text-anchor="middle" fill="#333" stroke="#333" stroke-width="0.220">MN</text>
<text transform="translate(490.80 296.70) scale(0.987 1)" font-size="6.6" text-anchor="middle" fill="#333" stroke="#333" stroke-width="0.223">(n = 9)</text>
<text transform="translate(6.60 338.80)" font-size="11.2" font-weight="bold" fill="#111">G</text>
<rect x="6.5" y="344.8" width="252" height="106" rx="3" fill="#fff" stroke="#7b819b" stroke-width="1.1"/>
<rect x="7.6" y="345.9" width="249.8" height="103.8" rx="2.2" fill="none" stroke="#e3e7f7" stroke-width="1"/>
<rect x="8.90" y="430.90" width="25.50" height="15.40" fill="#bcd6ee"/>
<text transform="translate(21.80 440.20) scale(0.895 1)" font-size="6.7" text-anchor="middle" fill="#334a6a" stroke="#334a6a" stroke-width="0.246">IDH VAF</text>
<text transform="translate(88.40 352.80)" font-size="6.2" text-anchor="middle" fill="#d0302a" stroke="#d0302a" stroke-width="0.221">IDH1 MN</text>
<ellipse cx="86.4" cy="357.6" rx="1.7" ry="2.3" fill="#25343a"/>
<rect x="85.60000000000001" y="359" width="1.6" height="2" fill="#25343a"/>
<path d="M82.80000000000001,360.8 Q86.4,360 90.0,360.8 L90.60000000000001,370 L90.30000000000001,379.8 L82.5,379.8 L82.2,370 Z" fill="#9fd0cb" stroke="#6f9fa0" stroke-width="0.4"/>
<path d="M82.9,361.5 L82.10000000000001,374.5 M89.9,361.5 L90.7,374.5" stroke="#4a6a6e" stroke-width="0.9"/>
<rect x="83.60000000000001" y="379.8" width="1.6" height="4.6" fill="#25343a"/><rect x="87.10000000000001" y="379.8" width="1.6" height="4.6" fill="#25343a"/>
<rect x="83.0" y="384" width="2.3" height="1" fill="#25343a"/><rect x="87.10000000000001" y="384" width="2.3" height="1" fill="#25343a"/>
<rect x="91.5" y="363.9" width="2.4" height="12" rx="1" fill="#8a2a2a" stroke="#efc0c0" stroke-width="0.5"/>
<rect x="91.7" y="364.1" width="2" height="3" fill="#d97c7c"/>
<text transform="translate(96.10 371.10) scale(0.965 1)" font-size="6.4" fill="#333" stroke="#333" stroke-width="0.228">PBMNC</text>
<path d="M72.9,383.2 Q57.400000000000006,384 52.400000000000006,397" fill="none" stroke="#111" stroke-width="1.2"/>
<path d="M51.2,399.6 L49.800000000000004,395.2 L54.10000000000001,396.6 Z" fill="#111"/>
<path d="M100.9,383.2 Q116.4,384 121.4,397" fill="none" stroke="#111" stroke-width="1.2"/>
<path d="M122.60000000000001,399.6 L119.7,396.6 L124.0,395.2 Z" fill="#111"/>
<line x1="86.50" y1="389.20" x2="86.50" y2="397.00" stroke="#111" stroke-width="1"/>
<path d="M86.9,399.8 L85.0,396.2 L88.80000000000001,396.2 Z" fill="#111"/>
<g transform="translate(52.90,409.8)"><path d="M-3,-7.5 C0,-8.8 4.5,-7.8 5.3,-5 C6,-3 5.2,-1.2 3.4,0 C5.4,1.2 6,3.6 5,5.6 C3.6,8 -1,8.6 -3.6,7.2 C-6,5.8 -6.2,2 -5.6,0 C-6.2,-3 -5.6,-6.4 -3,-7.5Z" fill="#a992d2" stroke="#8d74bd" stroke-width="0.6"/><path d="M-3.5,-3 C-1,-5 2,-4.5 3,-2.5 M-3.8,2.5 C-1.5,0.8 1.5,1.5 2.5,3.5" fill="none" stroke="#8a70bb" stroke-width="0.6" opacity="0.8"/></g>
<g transform="translate(87.10,409.2)"><path d="M-7.5,0 C-7.8,-4.5 -4,-7.6 0.5,-7.4 C5,-7.3 8,-4 7.8,0.3 C7.7,4.6 4.2,7.6 -0.2,7.4 C-4.6,7.2 -7.3,4.2 -7.5,0Z" fill="#66b8d2" stroke="#4a9cba" stroke-width="0.6"/><path d="M-4,-2.5 C-2.5,-5 1.5,-5 3,-2.8 C4.2,-0.8 3,2.2 0.6,2.4 C-1.4,2.6 -2.2,0.6 -1,-0.6 M1.5,4.8 C3.8,4.4 5.6,2.2 5.2,-0.5 M-5,1.5 C-4.5,3.8 -2.6,5 -0.6,5.2" fill="none" stroke="#3f8fae" stroke-width="0.7"/></g>
<g transform="translate(121.90,409.4)"><path d="M-6,-2 C-6.5,-5.5 -3,-7.8 0.5,-7.2 C4,-7.6 6.8,-5 6,-1.5 C6.8,1.5 6.5,5.5 3,6.8 C0,8.2 -4,7.6 -5.6,4.8 C-6.8,2.6 -6.6,0 -6,-2Z" fill="#6cc48e" stroke="#4aa070" stroke-width="0.6"/><path d="M-4.5,-4 C-2,-5.5 1,-4.8 1.2,-2.2 C1.4,0.3 -1.8,1.2 -3.8,-0.2 M1.5,-5 C4,-5.4 5.5,-3 4.2,-1 M-3.2,5.5 C-4.8,3.4 -3,1.3 -0.8,1.6 C1.3,2 1.4,4.6 0,5.8 M2,1 C4,0.6 5.3,2.6 4.2,4.6" fill="none" stroke="#459a68" stroke-width="0.7"/></g>
<text transform="translate(53.20 426.80)" font-size="6.7" text-anchor="middle" fill="#333" stroke="#333" stroke-width="0.220">CD14</text>
<text transform="translate(87.10 426.80)" font-size="6.7" text-anchor="middle" fill="#333" stroke="#333" stroke-width="0.220">CD19</text>
<text transform="translate(121.60 426.80)" font-size="6.7" text-anchor="middle" fill="#333" stroke="#333" stroke-width="0.220">CD3</text>
<rect x="36.70" y="430.90" width="33.00" height="15.60" fill="#f1f3f7"/>
<rect x="70.60" y="430.90" width="33.00" height="15.60" fill="#f1f3f7"/>
<rect x="105.10" y="430.90" width="33.00" height="15.60" fill="#f1f3f7"/>
<text transform="translate(53.20 440.40)" font-size="6.7" text-anchor="middle" fill="#e03a3a" stroke="#e03a3a" stroke-width="0.220">50%</text>
<text transform="translate(87.10 437.10)" font-size="6.5" text-anchor="middle" fill="#333" stroke="#333" stroke-width="0.220">not</text>
<text transform="translate(87.10 444.30) scale(1.033 1)" font-size="6.5" text-anchor="middle" fill="#333" stroke="#333" stroke-width="0.213">detectable</text>
<text transform="translate(121.60 437.10)" font-size="6.5" text-anchor="middle" fill="#333" stroke="#333" stroke-width="0.220">not</text>
<text transform="translate(121.60 444.30) scale(1.033 1)" font-size="6.5" text-anchor="middle" fill="#333" stroke="#333" stroke-width="0.213">detectable</text>
<text transform="translate(202.60 352.80)" font-size="6.2" text-anchor="middle" fill="#d0302a" stroke="#d0302a" stroke-width="0.221">IDH2 MN</text>
<ellipse cx="200.6" cy="357.6" rx="1.7" ry="2.3" fill="#25343a"/>
<rect x="199.79999999999998" y="359" width="1.6" height="2" fill="#25343a"/>
<path d="M197.0,360.8 Q200.6,360 204.2,360.8 L204.79999999999998,370 L204.5,379.8 L196.7,379.8 L196.4,370 Z" fill="#9fd0cb" stroke="#6f9fa0" stroke-width="0.4"/>
<path d="M197.1,361.5 L196.29999999999998,374.5 M204.1,361.5 L204.9,374.5" stroke="#4a6a6e" stroke-width="0.9"/>
<rect x="197.79999999999998" y="379.8" width="1.6" height="4.6" fill="#25343a"/><rect x="201.29999999999998" y="379.8" width="1.6" height="4.6" fill="#25343a"/>
<rect x="197.2" y="384" width="2.3" height="1" fill="#25343a"/><rect x="201.29999999999998" y="384" width="2.3" height="1" fill="#25343a"/>
<rect x="205.7" y="363.9" width="2.4" height="12" rx="1" fill="#8a2a2a" stroke="#efc0c0" stroke-width="0.5"/>
<rect x="205.9" y="364.1" width="2" height="3" fill="#d97c7c"/>
<text transform="translate(210.30 371.10) scale(0.965 1)" font-size="6.4" fill="#333" stroke="#333" stroke-width="0.228">PBMNC</text>
<path d="M187.1,383.2 Q171.6,384 166.6,397" fill="none" stroke="#111" stroke-width="1.2"/>
<path d="M165.39999999999998,399.6 L164.0,395.2 L168.3,396.6 Z" fill="#111"/>
<path d="M215.1,383.2 Q230.6,384 235.6,397" fill="none" stroke="#111" stroke-width="1.2"/>
<path d="M236.8,399.6 L233.89999999999998,396.6 L238.2,395.2 Z" fill="#111"/>
<line x1="201.50" y1="389.20" x2="201.50" y2="397.00" stroke="#111" stroke-width="1"/>
<path d="M201.1,399.8 L199.2,396.2 L203.0,396.2 Z" fill="#111"/>
<g transform="translate(167.10,409.8)"><path d="M-3,-7.5 C0,-8.8 4.5,-7.8 5.3,-5 C6,-3 5.2,-1.2 3.4,0 C5.4,1.2 6,3.6 5,5.6 C3.6,8 -1,8.6 -3.6,7.2 C-6,5.8 -6.2,2 -5.6,0 C-6.2,-3 -5.6,-6.4 -3,-7.5Z" fill="#a992d2" stroke="#8d74bd" stroke-width="0.6"/><path d="M-3.5,-3 C-1,-5 2,-4.5 3,-2.5 M-3.8,2.5 C-1.5,0.8 1.5,1.5 2.5,3.5" fill="none" stroke="#8a70bb" stroke-width="0.6" opacity="0.8"/></g>
<g transform="translate(201.30,409.2)"><path d="M-7.5,0 C-7.8,-4.5 -4,-7.6 0.5,-7.4 C5,-7.3 8,-4 7.8,0.3 C7.7,4.6 4.2,7.6 -0.2,7.4 C-4.6,7.2 -7.3,4.2 -7.5,0Z" fill="#66b8d2" stroke="#4a9cba" stroke-width="0.6"/><path d="M-4,-2.5 C-2.5,-5 1.5,-5 3,-2.8 C4.2,-0.8 3,2.2 0.6,2.4 C-1.4,2.6 -2.2,0.6 -1,-0.6 M1.5,4.8 C3.8,4.4 5.6,2.2 5.2,-0.5 M-5,1.5 C-4.5,3.8 -2.6,5 -0.6,5.2" fill="none" stroke="#3f8fae" stroke-width="0.7"/></g>
<g transform="translate(236.10,409.4)"><path d="M-6,-2 C-6.5,-5.5 -3,-7.8 0.5,-7.2 C4,-7.6 6.8,-5 6,-1.5 C6.8,1.5 6.5,5.5 3,6.8 C0,8.2 -4,7.6 -5.6,4.8 C-6.8,2.6 -6.6,0 -6,-2Z" fill="#6cc48e" stroke="#4aa070" stroke-width="0.6"/><path d="M-4.5,-4 C-2,-5.5 1,-4.8 1.2,-2.2 C1.4,0.3 -1.8,1.2 -3.8,-0.2 M1.5,-5 C4,-5.4 5.5,-3 4.2,-1 M-3.2,5.5 C-4.8,3.4 -3,1.3 -0.8,1.6 C1.3,2 1.4,4.6 0,5.8 M2,1 C4,0.6 5.3,2.6 4.2,4.6" fill="none" stroke="#459a68" stroke-width="0.7"/></g>
<text transform="translate(167.40 426.80)" font-size="6.7" text-anchor="middle" fill="#333" stroke="#333" stroke-width="0.220">CD14</text>
<text transform="translate(201.30 426.80)" font-size="6.7" text-anchor="middle" fill="#333" stroke="#333" stroke-width="0.220">CD19</text>
<text transform="translate(235.80 426.80)" font-size="6.7" text-anchor="middle" fill="#333" stroke="#333" stroke-width="0.220">CD3</text>
<rect x="150.90" y="430.90" width="33.00" height="15.60" fill="#f1f3f7"/>
<rect x="184.80" y="430.90" width="33.00" height="15.60" fill="#f1f3f7"/>
<rect x="219.30" y="430.90" width="33.00" height="15.60" fill="#f1f3f7"/>
<text transform="translate(167.40 440.40)" font-size="6.7" text-anchor="middle" fill="#e03a3a" stroke="#e03a3a" stroke-width="0.220">40-45%</text>
<text transform="translate(201.30 437.10)" font-size="6.5" text-anchor="middle" fill="#333" stroke="#333" stroke-width="0.220">not</text>
<text transform="translate(201.30 444.30) scale(1.033 1)" font-size="6.5" text-anchor="middle" fill="#333" stroke="#333" stroke-width="0.213">detectable</text>
<text transform="translate(235.80 437.10)" font-size="6.5" text-anchor="middle" fill="#333" stroke="#333" stroke-width="0.220">not</text>
<text transform="translate(235.80 444.30) scale(1.033 1)" font-size="6.5" text-anchor="middle" fill="#333" stroke="#333" stroke-width="0.213">detectable</text>
<text transform="translate(277.40 338.60)" font-size="11.2" font-weight="bold" fill="#111">H</text>
<line x1="306.50" y1="345.90" x2="306.50" y2="438.70" stroke="#333" stroke-width="1"/>
<line x1="302.80" y1="349.50" x2="306.00" y2="349.50" stroke="#333" stroke-width="1"/>
<text transform="translate(299.40 351.48) scale(0.920 1)" font-size="6.6" text-anchor="end" fill="#333" stroke="#333" stroke-width="0.239">100</text>
<line x1="302.80" y1="366.50" x2="306.00" y2="366.50" stroke="#333" stroke-width="1"/>
<text transform="translate(299.40 369.34) scale(0.920 1)" font-size="6.6" text-anchor="end" fill="#333" stroke="#333" stroke-width="0.239">80</text>
<line x1="302.80" y1="384.50" x2="306.00" y2="384.50" stroke="#333" stroke-width="1"/>
<text transform="translate(299.40 387.20) scale(0.920 1)" font-size="6.6" text-anchor="end" fill="#333" stroke="#333" stroke-width="0.239">60</text>
<line x1="302.80" y1="402.50" x2="306.00" y2="402.50" stroke="#333" stroke-width="1"/>
<text transform="translate(299.40 405.06) scale(0.920 1)" font-size="6.6" text-anchor="end" fill="#333" stroke="#333" stroke-width="0.239">40</text>
<line x1="302.80" y1="420.50" x2="306.00" y2="420.50" stroke="#333" stroke-width="1"/>
<text transform="translate(299.40 422.92) scale(0.920 1)" font-size="6.6" text-anchor="end" fill="#333" stroke="#333" stroke-width="0.239">20</text>
<line x1="302.80" y1="438.50" x2="306.00" y2="438.50" stroke="#333" stroke-width="1"/>
<text transform="translate(299.40 440.78) scale(0.920 1)" font-size="6.6" text-anchor="end" fill="#333" stroke="#333" stroke-width="0.239">0</text>
<line x1="306.00" y1="438.50" x2="372.50" y2="438.50" stroke="#333" stroke-width="1"/>
<line x1="330.50" y1="438.70" x2="330.50" y2="441.30" stroke="#333" stroke-width="1"/>
<line x1="359.50" y1="438.70" x2="359.50" y2="441.30" stroke="#333" stroke-width="1"/>
<rect x="320.80" y="349.10" width="19.00" height="89.60" fill="#c90c2d"/>
<rect x="349.30" y="416.60" width="19.50" height="22.10" fill="#f39200"/>
<text transform="translate(356.70 350.70) scale(0.982 1)" font-size="6.6" text-anchor="middle" fill="#333" stroke="#333" stroke-width="0.224"><tspan font-style="italic">P</tspan> = .02</text>
<text transform="translate(284.00 391.80) rotate(-90) scale(0.911 1)" font-size="7.2" text-anchor="middle" fill="#333" stroke="#333" stroke-width="0.242">Percentage of <tspan font-style="italic">IDH<tspan font-size="4.4" dy="-2.7">mut</tspan></tspan><tspan dy="2.7"> MN-AIRD</tspan></text>
<text transform="translate(330.30 450.60) scale(0.958 1)" font-size="6.7" text-anchor="middle" fill="#333" stroke="#333" stroke-width="0.230">High</text>
<text transform="translate(330.30 458.00) scale(0.987 1)" font-size="6.6" text-anchor="middle" fill="#333" stroke="#333" stroke-width="0.223">(n = 3)</text>
<text transform="translate(358.80 450.60) scale(0.936 1)" font-size="6.7" text-anchor="middle" fill="#333" stroke="#333" stroke-width="0.235">Low</text>
<text transform="translate(358.80 458.00) scale(0.961 1)" font-size="6.6" text-anchor="middle" fill="#333" stroke="#333" stroke-width="0.229">(n = 5)</text>
<line x1="324.20" y1="462.50" x2="365.80" y2="462.50" stroke="#333" stroke-width="1"/>
<text transform="translate(344.70 472.50) scale(0.882 1)" font-size="7.4" text-anchor="middle" fill="#333" stroke="#333" stroke-width="0.249">2-HG</text>
<text transform="translate(391.20 338.60)" font-size="11.2" font-weight="bold" fill="#111">I</text>
<line x1="428.50" y1="345.40" x2="428.50" y2="438.70" stroke="#333" stroke-width="1"/>
<line x1="425.20" y1="349.50" x2="428.40" y2="349.50" stroke="#333" stroke-width="1"/>
<text transform="translate(422.80 351.43) scale(0.990 1)" font-size="6.6" text-anchor="end" fill="#333" stroke="#333" stroke-width="0.222">500000</text>
<line x1="425.20" y1="366.50" x2="428.40" y2="366.50" stroke="#333" stroke-width="1"/>
<text transform="translate(422.80 369.28) scale(0.990 1)" font-size="6.6" text-anchor="end" fill="#333" stroke="#333" stroke-width="0.222">400000</text>
<line x1="425.20" y1="384.50" x2="428.40" y2="384.50" stroke="#333" stroke-width="1"/>
<text transform="translate(422.80 387.13) scale(0.990 1)" font-size="6.6" text-anchor="end" fill="#333" stroke="#333" stroke-width="0.222">300000</text>
<line x1="425.20" y1="402.50" x2="428.40" y2="402.50" stroke="#333" stroke-width="1"/>
<text transform="translate(422.80 404.98) scale(0.990 1)" font-size="6.6" text-anchor="end" fill="#333" stroke="#333" stroke-width="0.222">200000</text>
<line x1="425.20" y1="420.50" x2="428.40" y2="420.50" stroke="#333" stroke-width="1"/>
<text transform="translate(422.80 422.83) scale(0.990 1)" font-size="6.6" text-anchor="end" fill="#333" stroke="#333" stroke-width="0.222">100000</text>
<line x1="425.20" y1="438.50" x2="428.40" y2="438.50" stroke="#333" stroke-width="1"/>
<text transform="translate(422.80 440.68) scale(0.990 1)" font-size="6.6" text-anchor="end" fill="#333" stroke="#333" stroke-width="0.222">0</text>
<line x1="428.00" y1="438.50" x2="504.20" y2="438.50" stroke="#333" stroke-width="1"/>
<line x1="448.50" y1="438.70" x2="448.50" y2="441.30" stroke="#333" stroke-width="1"/>
<line x1="486.50" y1="438.70" x2="486.50" y2="441.30" stroke="#333" stroke-width="1"/>
<rect x="435.80" y="428.00" width="25.00" height="10.70" fill="#3aaa35"/>
<line x1="448.50" y1="428.00" x2="448.50" y2="412.50" stroke="#3aaa35" stroke-width="1"/>
<line x1="442.65" y1="412.50" x2="453.95" y2="412.50" stroke="#3aaa35" stroke-width="1"/>
<rect x="473.80" y="380.00" width="25.70" height="58.70" fill="#c90c2d"/>
<line x1="486.50" y1="380.00" x2="486.50" y2="362.50" stroke="#c90c2d" stroke-width="1"/>
<line x1="480.55" y1="362.50" x2="492.75" y2="362.50" stroke="#c90c2d" stroke-width="1"/>
<text transform="translate(466.60 356.70) scale(0.986 1)" font-size="6.6" text-anchor="middle" fill="#333" stroke="#333" stroke-width="0.223"><tspan font-style="italic">P</tspan> = .036</text>
<text transform="translate(396.90 392.00) rotate(-90) scale(0.809 1)" font-size="8.3" text-anchor="middle" fill="#333" stroke="#333" stroke-width="0.272">pHrodo fluorescence intensity</text>
<text transform="translate(448.30 451.00) scale(0.960 1)" font-size="6.7" text-anchor="middle" fill="#333" stroke="#333" stroke-width="0.229">Healthy</text>
<text transform="translate(448.50 458.50) scale(0.995 1)" font-size="6.7" text-anchor="middle" fill="#333" stroke="#333" stroke-width="0.221">control</text>
<text transform="translate(448.50 465.60) scale(1.038 1)" font-size="6.6" text-anchor="middle" fill="#333" stroke="#333" stroke-width="0.212">(n = 3)</text>
<text transform="translate(487.10 451.00) scale(0.980 1)" font-size="6.7" text-anchor="middle" fill="#333" stroke="#333" stroke-width="0.225"><tspan font-style="italic">IDH<tspan font-size="4.4" dy="-2.7">mut</tspan></tspan><tspan dy="2.6">MN</tspan></text>
<text transform="translate(487.00 458.00) scale(0.961 1)" font-size="6.6" text-anchor="middle" fill="#333" stroke="#333" stroke-width="0.229">(n = 5)</text>
</svg></body></html>
